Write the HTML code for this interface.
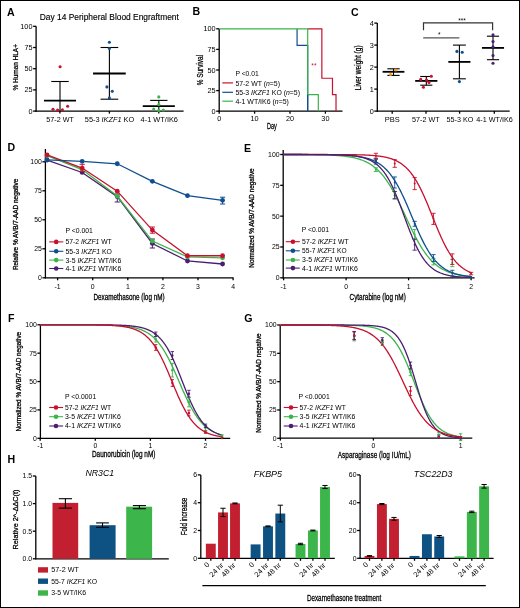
<!DOCTYPE html>
<html><head><meta charset="utf-8"><style>
html,body{margin:0;padding:0;background:#fff;}
body{width:520px;height:608px;overflow:hidden;}
svg{display:block;font-family:"Liberation Sans",sans-serif;}
svg{will-change:transform;}
text.c{stroke:#000;stroke-width:0.28px;}
text.t{stroke:#000;stroke-width:0.15px;}
</style></head><body>
<svg width="520" height="608" viewBox="0 0 520 608">
<rect x="0" y="0" width="520" height="608" fill="#fff"/>
<text x="7" y="15.8" font-size="10.6" font-weight="bold">A</text>
<text x="39.8" y="19.9" font-size="9.5" class="t" textLength="139" lengthAdjust="spacingAndGlyphs">Day 14 Peripheral Blood Engraftment</text>
<line x1="36.1" y1="26.3" x2="36.1" y2="111.65" stroke="#000" stroke-width="1.3" />
<line x1="33.1" y1="26.3" x2="36.1" y2="26.3" stroke="#000" stroke-width="1.3" />
<text x="32.5" y="28.85" font-size="7.3" text-anchor="end">100</text>
<line x1="33.1" y1="47.5" x2="36.1" y2="47.5" stroke="#000" stroke-width="1.3" />
<text x="32.5" y="50.05" font-size="7.3" text-anchor="end">75</text>
<line x1="33.1" y1="68.7" x2="36.1" y2="68.7" stroke="#000" stroke-width="1.3" />
<text x="32.5" y="71.25" font-size="7.3" text-anchor="end">50</text>
<line x1="33.1" y1="89.9" x2="36.1" y2="89.9" stroke="#000" stroke-width="1.3" />
<text x="32.5" y="92.45" font-size="7.3" text-anchor="end">25</text>
<line x1="33.1" y1="111.1" x2="36.1" y2="111.1" stroke="#000" stroke-width="1.3" />
<text x="32.5" y="113.66" font-size="7.3" text-anchor="end">0</text>
<line x1="35.45" y1="111.1" x2="183.6" y2="111.1" stroke="#000" stroke-width="1.3" />
<line x1="59.9" y1="111.1" x2="59.9" y2="113.6" stroke="#000" stroke-width="1.3" />
<line x1="109.4" y1="111.1" x2="109.4" y2="113.6" stroke="#000" stroke-width="1.3" />
<line x1="158.8" y1="111.1" x2="158.8" y2="113.6" stroke="#000" stroke-width="1.3" />
<text x="18.4" y="67.3" font-size="7.7" class="c" text-anchor="middle" textLength="46.5" lengthAdjust="spacingAndGlyphs" transform="rotate(-90 18.4 67.3)">% Human HLA+</text>
<text x="60.15" y="121.5" font-size="7.5" text-anchor="middle" textLength="27.7" lengthAdjust="spacingAndGlyphs">57-2 WT</text>
<text x="109.5" y="121.5" font-size="7.5" text-anchor="middle" textLength="49.4" lengthAdjust="spacingAndGlyphs">55-3 <tspan font-style="italic">IKZF1</tspan> KO</text>
<text x="159.3" y="121.5" font-size="7.5" text-anchor="middle" textLength="37.4" lengthAdjust="spacingAndGlyphs">4-1 WT/IK6</text>
<line x1="60" y1="81.5" x2="60" y2="111.1" stroke="#000" stroke-width="1.1" />
<line x1="51.25" y1="81.5" x2="68.75" y2="81.5" stroke="#000" stroke-width="1.1" />
<line x1="43.95" y1="100.7" x2="76.05" y2="100.7" stroke="#000" stroke-width="1.8" />
<circle cx="60.1" cy="66.8" r="1.55" fill="#c8102e"/>
<circle cx="53" cy="109.2" r="1.55" fill="#c8102e"/>
<circle cx="57.6" cy="110.1" r="1.55" fill="#c8102e"/>
<circle cx="62.4" cy="109.7" r="1.55" fill="#c8102e"/>
<circle cx="67.6" cy="106.3" r="1.55" fill="#c8102e"/>
<line x1="109.4" y1="47.5" x2="109.4" y2="99.2" stroke="#000" stroke-width="1.1" />
<line x1="100.55" y1="47.5" x2="118.25" y2="47.5" stroke="#000" stroke-width="1.1" />
<line x1="100.55" y1="99.2" x2="118.25" y2="99.2" stroke="#000" stroke-width="1.1" />
<line x1="93.05" y1="73.5" x2="125.75" y2="73.5" stroke="#000" stroke-width="1.8" />
<circle cx="109.4" cy="42.3" r="1.55" fill="#0f4f8f"/>
<circle cx="109.4" cy="48.5" r="1.55" fill="#0f4f8f"/>
<circle cx="106.9" cy="86.9" r="1.55" fill="#0f4f8f"/>
<circle cx="112.3" cy="91.2" r="1.55" fill="#0f4f8f"/>
<circle cx="109.4" cy="97.9" r="1.55" fill="#0f4f8f"/>
<line x1="158.8" y1="100.4" x2="158.8" y2="111.1" stroke="#000" stroke-width="1.1" />
<line x1="150.15" y1="100.4" x2="167.45" y2="100.4" stroke="#000" stroke-width="1.1" />
<line x1="142.75" y1="106.2" x2="174.85" y2="106.2" stroke="#000" stroke-width="1.8" />
<circle cx="158.8" cy="96.9" r="1.55" fill="#3cb44b"/>
<circle cx="158.8" cy="104.6" r="1.55" fill="#3cb44b"/>
<circle cx="153.7" cy="109" r="1.55" fill="#3cb44b"/>
<circle cx="158.8" cy="110.4" r="1.55" fill="#3cb44b"/>
<circle cx="163.3" cy="110" r="1.55" fill="#3cb44b"/>
<text x="192.6" y="15.4" font-size="10.6" font-weight="bold">B</text>
<line x1="219.2" y1="28.8" x2="219.2" y2="111.75" stroke="#000" stroke-width="1.3" />
<line x1="216.2" y1="28.8" x2="219.2" y2="28.8" stroke="#000" stroke-width="1.3" />
<text x="215.6" y="31.36" font-size="7.3" text-anchor="end">100</text>
<line x1="216.2" y1="49.4" x2="219.2" y2="49.4" stroke="#000" stroke-width="1.3" />
<text x="215.6" y="51.96" font-size="7.3" text-anchor="end">75</text>
<line x1="216.2" y1="70" x2="219.2" y2="70" stroke="#000" stroke-width="1.3" />
<text x="215.6" y="72.56" font-size="7.3" text-anchor="end">50</text>
<line x1="216.2" y1="90.6" x2="219.2" y2="90.6" stroke="#000" stroke-width="1.3" />
<text x="215.6" y="93.16" font-size="7.3" text-anchor="end">25</text>
<line x1="216.2" y1="111.2" x2="219.2" y2="111.2" stroke="#000" stroke-width="1.3" />
<text x="215.6" y="113.75" font-size="7.3" text-anchor="end">0</text>
<line x1="218.65" y1="111.2" x2="342.5" y2="111.2" stroke="#000" stroke-width="1.3" />
<line x1="219.2" y1="111.2" x2="219.2" y2="113.7" stroke="#000" stroke-width="1.3" />
<text x="219.2" y="121.2" font-size="7.3" text-anchor="middle">0</text>
<line x1="254.6" y1="111.2" x2="254.6" y2="113.7" stroke="#000" stroke-width="1.3" />
<text x="254.6" y="121.2" font-size="7.3" text-anchor="middle">10</text>
<line x1="290" y1="111.2" x2="290" y2="113.7" stroke="#000" stroke-width="1.3" />
<text x="290" y="121.2" font-size="7.3" text-anchor="middle">20</text>
<line x1="325.4" y1="111.2" x2="325.4" y2="113.7" stroke="#000" stroke-width="1.3" />
<text x="325.4" y="121.2" font-size="7.3" text-anchor="middle">30</text>
<text x="203.2" y="70.1" font-size="8.4" class="c" text-anchor="middle" textLength="30.4" lengthAdjust="spacingAndGlyphs" transform="rotate(-90 203.2 70.1)">% Survival</text>
<text x="271.95" y="128.5" font-size="9.2" class="c" text-anchor="middle" textLength="9.9" lengthAdjust="spacingAndGlyphs">Day</text>
<polyline points="307.7,28.8 321.86,28.8 321.86,78.24 332.48,78.24 332.48,94.72 336.02,94.72 336.02,111.2" fill="none" stroke="#c8102e" stroke-width="1.2" stroke-linejoin="miter" />
<polyline points="297.08,28.8 297.08,45.28 307.7,45.28 307.7,111.2" fill="none" stroke="#0f4f8f" stroke-width="1.2" stroke-linejoin="miter" />
<polyline points="219.2,28.8 307.7,28.8 307.7,94.72 318.32,94.72 318.32,111.2" fill="none" stroke="#3cb44b" stroke-width="1.2" stroke-linejoin="miter" />
<line x1="307.7" y1="94.72" x2="307.7" y2="111.2" stroke="#0f4f8f" stroke-width="1.2" />
<text x="313.9" y="68.1" font-size="6.5" text-anchor="middle" fill="#c8102e">**</text>
<text x="235.4" y="75.8" font-size="7.6" textLength="23.4" lengthAdjust="spacingAndGlyphs">P &lt;0.01</text>
<line x1="222.3" y1="82.9" x2="233" y2="82.9" stroke="#c8102e" stroke-width="1.2" />
<text x="235.4" y="85.7" font-size="7.6" textLength="44.6" lengthAdjust="spacingAndGlyphs">57-2 WT (<tspan font-style="italic">n</tspan>=5)</text>
<line x1="222.3" y1="92.3" x2="233" y2="92.3" stroke="#0f4f8f" stroke-width="1.2" />
<text x="235.4" y="95.1" font-size="7.6" textLength="64.6" lengthAdjust="spacingAndGlyphs">55-3 <tspan font-style="italic">IKZF1</tspan> KO (<tspan font-style="italic">n</tspan>=5)</text>
<line x1="222.3" y1="101.2" x2="233" y2="101.2" stroke="#3cb44b" stroke-width="1.2" />
<text x="235.4" y="104" font-size="7.6" textLength="53.5" lengthAdjust="spacingAndGlyphs">4-1 WT/IK6 (<tspan font-style="italic">n</tspan>=5)</text>
<text x="351" y="15.7" font-size="10.6" font-weight="bold">C</text>
<line x1="377.3" y1="23.1" x2="377.3" y2="111.65" stroke="#000" stroke-width="1.3" />
<line x1="374.3" y1="23.1" x2="377.3" y2="23.1" stroke="#000" stroke-width="1.3" />
<text x="373.7" y="25.65" font-size="7.3" text-anchor="end">4</text>
<line x1="374.3" y1="45.1" x2="377.3" y2="45.1" stroke="#000" stroke-width="1.3" />
<text x="373.7" y="47.65" font-size="7.3" text-anchor="end">3</text>
<line x1="374.3" y1="67.1" x2="377.3" y2="67.1" stroke="#000" stroke-width="1.3" />
<text x="373.7" y="69.66" font-size="7.3" text-anchor="end">2</text>
<line x1="374.3" y1="89.1" x2="377.3" y2="89.1" stroke="#000" stroke-width="1.3" />
<text x="373.7" y="91.66" font-size="7.3" text-anchor="end">1</text>
<line x1="374.3" y1="111.1" x2="377.3" y2="111.1" stroke="#000" stroke-width="1.3" />
<text x="373.7" y="113.66" font-size="7.3" text-anchor="end">0</text>
<line x1="376.75" y1="111.1" x2="509.7" y2="111.1" stroke="#000" stroke-width="1.3" />
<line x1="392.2" y1="111.1" x2="392.2" y2="113.7" stroke="#000" stroke-width="1.3" />
<line x1="426" y1="111.1" x2="426" y2="113.7" stroke="#000" stroke-width="1.3" />
<line x1="459.6" y1="111.1" x2="459.6" y2="113.7" stroke="#000" stroke-width="1.3" />
<line x1="494.3" y1="111.1" x2="494.3" y2="113.7" stroke="#000" stroke-width="1.3" />
<text x="361.3" y="67.8" font-size="8.2" class="c" text-anchor="middle" textLength="44.8" lengthAdjust="spacingAndGlyphs" transform="rotate(-90 361.3 67.8)">Liver weight (g)</text>
<text x="392.2" y="122.4" font-size="7.2" text-anchor="middle" textLength="15" lengthAdjust="spacingAndGlyphs">PBS</text>
<text x="425.9" y="122.4" font-size="7.2" text-anchor="middle" textLength="27.7" lengthAdjust="spacingAndGlyphs">57-2 WT</text>
<text x="459.9" y="122.4" font-size="7.2" text-anchor="middle" textLength="26.7" lengthAdjust="spacingAndGlyphs">55-3 KO</text>
<text x="494.5" y="122.4" font-size="7.2" text-anchor="middle" textLength="36.5" lengthAdjust="spacingAndGlyphs">4-1 WT/IK6</text>
<line x1="393.5" y1="68.8" x2="393.5" y2="75.4" stroke="#000" stroke-width="1.1" />
<line x1="387.35" y1="68.8" x2="399.65" y2="68.8" stroke="#000" stroke-width="1.1" />
<line x1="387.35" y1="75.4" x2="399.65" y2="75.4" stroke="#000" stroke-width="1.1" />
<line x1="382.6" y1="71.8" x2="404.4" y2="71.8" stroke="#000" stroke-width="1.8" />
<circle cx="395.8" cy="70" r="1.55" fill="#f39c12"/>
<circle cx="390.5" cy="74.5" r="1.55" fill="#f39c12"/>
<line x1="426.3" y1="76.5" x2="426.3" y2="85.2" stroke="#000" stroke-width="1.1" />
<line x1="420.25" y1="76.5" x2="432.35" y2="76.5" stroke="#000" stroke-width="1.1" />
<line x1="420.25" y1="85.2" x2="432.35" y2="85.2" stroke="#000" stroke-width="1.1" />
<line x1="415.2" y1="80.9" x2="437.4" y2="80.9" stroke="#000" stroke-width="1.8" />
<circle cx="431.3" cy="76.3" r="1.55" fill="#c8102e"/>
<circle cx="420.7" cy="79.4" r="1.55" fill="#c8102e"/>
<circle cx="426.5" cy="80.1" r="1.55" fill="#c8102e"/>
<circle cx="429" cy="82.4" r="1.55" fill="#c8102e"/>
<circle cx="423.4" cy="87.3" r="1.55" fill="#c8102e"/>
<line x1="459.4" y1="45.1" x2="459.4" y2="78.8" stroke="#000" stroke-width="1.1" />
<line x1="452.95" y1="45.1" x2="465.85" y2="45.1" stroke="#000" stroke-width="1.1" />
<line x1="452.95" y1="78.8" x2="465.85" y2="78.8" stroke="#000" stroke-width="1.1" />
<line x1="448.35" y1="61.9" x2="470.45" y2="61.9" stroke="#000" stroke-width="1.8" />
<circle cx="456.9" cy="51.4" r="1.55" fill="#0f4f8f"/>
<circle cx="462.2" cy="52.2" r="1.55" fill="#0f4f8f"/>
<circle cx="459.4" cy="81.6" r="1.55" fill="#0f4f8f"/>
<line x1="493" y1="36.2" x2="493" y2="59.7" stroke="#000" stroke-width="1.1" />
<line x1="486.9" y1="36.2" x2="499.1" y2="36.2" stroke="#000" stroke-width="1.1" />
<line x1="486.9" y1="59.7" x2="499.1" y2="59.7" stroke="#000" stroke-width="1.1" />
<line x1="481.95" y1="47.9" x2="504.05" y2="47.9" stroke="#000" stroke-width="1.8" />
<circle cx="493" cy="34.7" r="1.55" fill="#4b1f6f"/>
<circle cx="493" cy="41.6" r="1.55" fill="#4b1f6f"/>
<circle cx="493" cy="46.9" r="1.55" fill="#4b1f6f"/>
<circle cx="493" cy="55.6" r="1.55" fill="#4b1f6f"/>
<circle cx="493" cy="63.3" r="1.55" fill="#4b1f6f"/>
<polyline points="423.5,30.3 423.5,22.9 492.6,22.9 492.6,30.3" fill="none" stroke="#333" stroke-width="1.2" stroke-linejoin="miter" />
<text x="462" y="23" font-size="6.5" text-anchor="middle">***</text>
<line x1="423.2" y1="37.8" x2="459.4" y2="37.8" stroke="#555" stroke-width="1.2" />
<text x="439.2" y="37.3" font-size="6.5" text-anchor="middle">*</text>
<text x="7.5" y="151.2" font-size="10.6" font-weight="bold">D</text>
<line x1="45.4" y1="149" x2="45.4" y2="278.35" stroke="#000" stroke-width="1.3" />
<line x1="42.4" y1="161.8" x2="45.4" y2="161.8" stroke="#000" stroke-width="1.3" />
<text x="41.8" y="164.22" font-size="6.9" text-anchor="end">100</text>
<line x1="42.4" y1="190.8" x2="45.4" y2="190.8" stroke="#000" stroke-width="1.3" />
<text x="41.8" y="193.22" font-size="6.9" text-anchor="end">75</text>
<line x1="42.4" y1="219.8" x2="45.4" y2="219.8" stroke="#000" stroke-width="1.3" />
<text x="41.8" y="222.22" font-size="6.9" text-anchor="end">50</text>
<line x1="42.4" y1="248.8" x2="45.4" y2="248.8" stroke="#000" stroke-width="1.3" />
<text x="41.8" y="251.22" font-size="6.9" text-anchor="end">25</text>
<line x1="42.4" y1="277.8" x2="45.4" y2="277.8" stroke="#000" stroke-width="1.3" />
<text x="41.8" y="280.22" font-size="6.9" text-anchor="end">0</text>
<line x1="44.85" y1="277.8" x2="233.5" y2="277.8" stroke="#000" stroke-width="1.3" />
<line x1="57.6" y1="277.8" x2="57.6" y2="280.3" stroke="#000" stroke-width="1.3" />
<text x="57.6" y="289" font-size="6.9" text-anchor="middle">-1</text>
<line x1="92.7" y1="277.8" x2="92.7" y2="280.3" stroke="#000" stroke-width="1.3" />
<text x="92.7" y="289" font-size="6.9" text-anchor="middle">0</text>
<line x1="127.8" y1="277.8" x2="127.8" y2="280.3" stroke="#000" stroke-width="1.3" />
<text x="127.8" y="289" font-size="6.9" text-anchor="middle">1</text>
<line x1="162.9" y1="277.8" x2="162.9" y2="280.3" stroke="#000" stroke-width="1.3" />
<text x="162.9" y="289" font-size="6.9" text-anchor="middle">2</text>
<line x1="198" y1="277.8" x2="198" y2="280.3" stroke="#000" stroke-width="1.3" />
<text x="198" y="289" font-size="6.9" text-anchor="middle">3</text>
<line x1="233.1" y1="277.8" x2="233.1" y2="280.3" stroke="#000" stroke-width="1.3" />
<text x="233.1" y="289" font-size="6.9" text-anchor="middle">4</text>
<text x="18.4" y="224.4" font-size="6.5" class="c" text-anchor="middle" textLength="91.4" lengthAdjust="spacingAndGlyphs" transform="rotate(-90 18.4 224.4)">Relative % AVB/7-AAD negative</text>
<text x="129" y="300" font-size="8.4" class="c" text-anchor="middle" textLength="71.2" lengthAdjust="spacingAndGlyphs">Dexamethasone (log nM)</text>
<polyline points="47.07,160.06 82.17,172.47 117.27,196.6 152.37,243.46 187.47,260.98 222.57,264" fill="none" stroke="#4b1f6f" stroke-width="1.3" stroke-linejoin="miter" />
<line x1="152.37" y1="239" x2="152.37" y2="248" stroke="#4b1f6f" stroke-width="1.0" />
<line x1="149.77" y1="239" x2="154.97" y2="239" stroke="#4b1f6f" stroke-width="1.0" />
<line x1="149.77" y1="248" x2="154.97" y2="248" stroke="#4b1f6f" stroke-width="1.0" />
<line x1="117.27" y1="194" x2="117.27" y2="202" stroke="#4b1f6f" stroke-width="1.0" />
<line x1="114.67" y1="194" x2="119.87" y2="194" stroke="#4b1f6f" stroke-width="1.0" />
<line x1="114.67" y1="202" x2="119.87" y2="202" stroke="#4b1f6f" stroke-width="1.0" />
<circle cx="47.07" cy="160.06" r="2.4" fill="#4b1f6f"/>
<circle cx="82.17" cy="172.47" r="2.4" fill="#4b1f6f"/>
<circle cx="117.27" cy="196.6" r="2.4" fill="#4b1f6f"/>
<circle cx="152.37" cy="243.46" r="2.4" fill="#4b1f6f"/>
<circle cx="187.47" cy="260.98" r="2.4" fill="#4b1f6f"/>
<circle cx="222.57" cy="264" r="2.4" fill="#4b1f6f"/>
<polyline points="47.07,155.65 82.17,169.57 117.27,196.02 152.37,241.03 187.47,256.92 222.57,257.85" fill="none" stroke="#3cb44b" stroke-width="1.3" stroke-linejoin="miter" />
<circle cx="47.07" cy="155.65" r="2.4" fill="#3cb44b"/>
<circle cx="82.17" cy="169.57" r="2.4" fill="#3cb44b"/>
<circle cx="117.27" cy="196.02" r="2.4" fill="#3cb44b"/>
<circle cx="152.37" cy="241.03" r="2.4" fill="#3cb44b"/>
<circle cx="187.47" cy="256.92" r="2.4" fill="#3cb44b"/>
<circle cx="222.57" cy="257.85" r="2.4" fill="#3cb44b"/>
<polyline points="47.07,154.96 82.17,168.06 117.27,191.15 152.37,230.12 187.47,255.76 222.57,255.76" fill="none" stroke="#c8102e" stroke-width="1.3" stroke-linejoin="miter" />
<line x1="82.17" y1="164.3" x2="82.17" y2="171.5" stroke="#c8102e" stroke-width="1.0" />
<line x1="79.57" y1="164.3" x2="84.77" y2="164.3" stroke="#c8102e" stroke-width="1.0" />
<line x1="79.57" y1="171.5" x2="84.77" y2="171.5" stroke="#c8102e" stroke-width="1.0" />
<line x1="152.37" y1="227" x2="152.37" y2="233.2" stroke="#c8102e" stroke-width="1.0" />
<line x1="149.77" y1="227" x2="154.97" y2="227" stroke="#c8102e" stroke-width="1.0" />
<line x1="149.77" y1="233.2" x2="154.97" y2="233.2" stroke="#c8102e" stroke-width="1.0" />
<circle cx="47.07" cy="154.96" r="2.4" fill="#c8102e"/>
<circle cx="82.17" cy="168.06" r="2.4" fill="#c8102e"/>
<circle cx="117.27" cy="191.15" r="2.4" fill="#c8102e"/>
<circle cx="152.37" cy="230.12" r="2.4" fill="#c8102e"/>
<circle cx="187.47" cy="255.76" r="2.4" fill="#c8102e"/>
<circle cx="222.57" cy="255.76" r="2.4" fill="#c8102e"/>
<polyline points="47.07,159.94 82.17,161.34 117.27,163.77 152.37,181.29 187.47,195.67 222.57,200.31" fill="none" stroke="#0f4f8f" stroke-width="1.3" stroke-linejoin="miter" />
<line x1="222.57" y1="197.2" x2="222.57" y2="204" stroke="#0f4f8f" stroke-width="1.0" />
<line x1="219.97" y1="197.2" x2="225.17" y2="197.2" stroke="#0f4f8f" stroke-width="1.0" />
<line x1="219.97" y1="204" x2="225.17" y2="204" stroke="#0f4f8f" stroke-width="1.0" />
<circle cx="47.07" cy="159.94" r="2.4" fill="#0f4f8f"/>
<circle cx="82.17" cy="161.34" r="2.4" fill="#0f4f8f"/>
<circle cx="117.27" cy="163.77" r="2.4" fill="#0f4f8f"/>
<circle cx="152.37" cy="181.29" r="2.4" fill="#0f4f8f"/>
<circle cx="187.47" cy="195.67" r="2.4" fill="#0f4f8f"/>
<circle cx="222.57" cy="200.31" r="2.4" fill="#0f4f8f"/>
<text x="65.5" y="232.6" font-size="7.1" textLength="27.4" lengthAdjust="spacingAndGlyphs">P &lt;0.001</text>
<line x1="49.2" y1="241.9" x2="63.3" y2="241.9" stroke="#c8102e" stroke-width="1.1" />
<circle cx="56.2" cy="241.9" r="2.3" fill="#c8102e"/>
<text x="65.5" y="244.3" font-size="7.1" textLength="46.2" lengthAdjust="spacingAndGlyphs">57-2 <tspan font-style="italic">IKZF1</tspan> WT</text>
<line x1="49.2" y1="251.3" x2="63.3" y2="251.3" stroke="#0f4f8f" stroke-width="1.1" />
<circle cx="56.2" cy="251.3" r="2.3" fill="#0f4f8f"/>
<text x="65.5" y="253.7" font-size="7.1" textLength="46.4" lengthAdjust="spacingAndGlyphs">55-3 <tspan font-style="italic">IKZF1</tspan> KO</text>
<line x1="49.2" y1="260.1" x2="63.3" y2="260.1" stroke="#3cb44b" stroke-width="1.1" />
<circle cx="56.2" cy="260.1" r="2.3" fill="#3cb44b"/>
<text x="65.5" y="262.5" font-size="7.1" textLength="55.8" lengthAdjust="spacingAndGlyphs">3-5 <tspan font-style="italic">IKZF1</tspan> WT/IK6</text>
<line x1="49.2" y1="268.5" x2="63.3" y2="268.5" stroke="#4b1f6f" stroke-width="1.1" />
<circle cx="56.2" cy="268.5" r="2.3" fill="#4b1f6f"/>
<text x="65.5" y="270.9" font-size="7.1" textLength="55.8" lengthAdjust="spacingAndGlyphs">4-1 <tspan font-style="italic">IKZF1</tspan> WT/IK6</text>
<text x="244" y="151.9" font-size="10.6" font-weight="bold">E</text>
<line x1="283.2" y1="150.1" x2="283.2" y2="278.35" stroke="#000" stroke-width="1.3" />
<line x1="280.2" y1="154.5" x2="283.2" y2="154.5" stroke="#000" stroke-width="1.3" />
<text x="279.6" y="156.91" font-size="6.9" text-anchor="end">100</text>
<line x1="280.2" y1="185.32" x2="283.2" y2="185.32" stroke="#000" stroke-width="1.3" />
<text x="279.6" y="187.74" font-size="6.9" text-anchor="end">75</text>
<line x1="280.2" y1="216.15" x2="283.2" y2="216.15" stroke="#000" stroke-width="1.3" />
<text x="279.6" y="218.56" font-size="6.9" text-anchor="end">50</text>
<line x1="280.2" y1="246.98" x2="283.2" y2="246.98" stroke="#000" stroke-width="1.3" />
<text x="279.6" y="249.39" font-size="6.9" text-anchor="end">25</text>
<line x1="280.2" y1="277.8" x2="283.2" y2="277.8" stroke="#000" stroke-width="1.3" />
<text x="279.6" y="280.22" font-size="6.9" text-anchor="end">0</text>
<line x1="282.65" y1="277.8" x2="474.6" y2="277.8" stroke="#000" stroke-width="1.3" />
<line x1="283.6" y1="277.8" x2="283.6" y2="280.3" stroke="#000" stroke-width="1.3" />
<text x="283.6" y="288.6" font-size="6.9" text-anchor="middle">-1</text>
<line x1="346.1" y1="277.8" x2="346.1" y2="280.3" stroke="#000" stroke-width="1.3" />
<text x="346.1" y="288.6" font-size="6.9" text-anchor="middle">0</text>
<line x1="408.6" y1="277.8" x2="408.6" y2="280.3" stroke="#000" stroke-width="1.3" />
<text x="408.6" y="288.6" font-size="6.9" text-anchor="middle">1</text>
<line x1="471.1" y1="277.8" x2="471.1" y2="280.3" stroke="#000" stroke-width="1.3" />
<text x="471.1" y="288.6" font-size="6.9" text-anchor="middle">2</text>
<text x="253.8" y="218" font-size="6.5" class="c" text-anchor="middle" textLength="99.3" lengthAdjust="spacingAndGlyphs" transform="rotate(-90 253.8 218)">Normalized % AVB/7-AAD negative</text>
<text x="377.65" y="299.5" font-size="8.4" class="c" text-anchor="middle" textLength="56.3" lengthAdjust="spacingAndGlyphs">Cytarabine (log nM)</text>
<polyline points="283.6,154.52 284.23,154.53 284.85,154.53 285.48,154.53 286.1,154.53 286.73,154.53 287.35,154.53 287.98,154.53 288.6,154.53 289.23,154.54 289.85,154.54 290.48,154.54 291.1,154.54 291.73,154.54 292.35,154.54 292.98,154.55 293.6,154.55 294.23,154.55 294.85,154.55 295.48,154.56 296.1,154.56 296.73,154.56 297.35,154.56 297.98,154.57 298.6,154.57 299.23,154.57 299.85,154.58 300.48,154.58 301.1,154.58 301.73,154.59 302.35,154.59 302.98,154.59 303.6,154.6 304.23,154.6 304.85,154.61 305.48,154.61 306.1,154.62 306.73,154.62 307.35,154.63 307.98,154.63 308.6,154.64 309.23,154.65 309.85,154.65 310.48,154.66 311.1,154.67 311.73,154.67 312.35,154.68 312.98,154.69 313.6,154.7 314.23,154.71 314.85,154.72 315.48,154.73 316.1,154.74 316.73,154.75 317.35,154.76 317.98,154.77 318.6,154.78 319.23,154.79 319.85,154.81 320.48,154.82 321.1,154.83 321.73,154.85 322.35,154.87 322.98,154.88 323.6,154.9 324.23,154.92 324.85,154.93 325.48,154.95 326.1,154.97 326.73,155 327.35,155.02 327.98,155.04 328.6,155.06 329.23,155.09 329.85,155.12 330.48,155.14 331.1,155.17 331.73,155.2 332.35,155.23 332.98,155.27 333.6,155.3 334.23,155.34 334.85,155.37 335.48,155.41 336.1,155.45 336.73,155.49 337.35,155.54 337.98,155.58 338.6,155.63 339.23,155.68 339.85,155.73 340.48,155.79 341.1,155.85 341.73,155.91 342.35,155.97 342.98,156.03 343.6,156.1 344.23,156.17 344.85,156.24 345.48,156.32 346.1,156.4 346.73,156.49 347.35,156.57 347.98,156.66 348.6,156.76 349.23,156.86 349.85,156.96 350.48,157.07 351.1,157.18 351.73,157.3 352.35,157.42 352.98,157.55 353.6,157.68 354.23,157.82 354.85,157.96 355.48,158.11 356.1,158.27 356.73,158.43 357.35,158.6 357.98,158.78 358.6,158.97 359.23,159.16 359.85,159.36 360.48,159.57 361.1,159.78 361.73,160.01 362.35,160.24 362.98,160.49 363.6,160.74 364.23,161.01 364.85,161.28 365.48,161.57 366.1,161.87 366.73,162.17 367.35,162.5 367.98,162.83 368.6,163.18 369.23,163.53 369.85,163.91 370.48,164.3 371.1,164.7 371.73,165.11 372.35,165.55 372.98,165.99 373.6,166.46 374.23,166.94 374.85,167.44 375.48,167.95 376.1,168.49 376.73,169.04 377.35,169.61 377.98,170.2 378.6,170.81 379.23,171.44 379.85,172.08 380.48,172.75 381.1,173.45 381.73,174.16 382.35,174.89 382.98,175.65 383.6,176.42 384.23,177.22 384.85,178.05 385.48,178.89 386.1,179.76 386.73,180.65 387.35,181.56 387.98,182.5 388.6,183.45 389.23,184.44 389.85,185.44 390.48,186.46 391.1,187.51 391.73,188.58 392.35,189.67 392.98,190.78 393.6,191.91 394.23,193.06 394.85,194.23 395.48,195.41 396.1,196.62 396.73,197.84 397.35,199.08 397.98,200.33 398.6,201.6 399.23,202.88 399.85,204.17 400.48,205.47 401.1,206.78 401.73,208.1 402.35,209.43 402.98,210.77 403.6,212.11 404.23,213.45 404.85,214.8 405.48,216.15 406.1,217.5 406.73,218.85 407.35,220.19 407.98,221.53 408.6,222.87 409.23,224.2 409.85,225.52 410.48,226.83 411.1,228.13 411.73,229.42 412.35,230.7 412.98,231.97 413.6,233.22 414.23,234.46 414.85,235.68 415.48,236.89 416.1,238.07 416.73,239.24 417.35,240.39 417.98,241.52 418.6,242.63 419.23,243.72 419.85,244.79 420.48,245.84 421.1,246.86 421.73,247.86 422.35,248.85 422.98,249.8 423.6,250.74 424.23,251.65 424.85,252.54 425.48,253.41 426.1,254.25 426.73,255.08 427.35,255.88 427.98,256.65 428.6,257.41 429.23,258.14 429.85,258.85 430.48,259.55 431.1,260.22 431.73,260.86 432.35,261.49 432.98,262.1 433.6,262.69 434.23,263.26 434.85,263.81 435.48,264.35 436.1,264.86 436.73,265.36 437.35,265.84 437.98,266.31 438.6,266.75 439.23,267.19 439.85,267.6 440.48,268 441.1,268.39 441.73,268.77 442.35,269.12 442.98,269.47 443.6,269.8 444.23,270.13 444.85,270.43 445.48,270.73 446.1,271.02 446.73,271.29 447.35,271.56 447.98,271.81 448.6,272.06 449.23,272.29 449.85,272.52 450.48,272.73 451.1,272.94 451.73,273.14 452.35,273.33 452.98,273.52 453.6,273.7 454.23,273.87 454.85,274.03 455.48,274.19 456.1,274.34 456.73,274.48 457.35,274.62 457.98,274.75 458.6,274.88 459.23,275 459.85,275.12 460.48,275.23 461.1,275.34 461.73,275.44 462.35,275.54 462.98,275.64 463.6,275.73 464.23,275.81 464.85,275.9 465.48,275.98 466.1,276.06 466.73,276.13 467.35,276.2 467.98,276.27 468.6,276.33 469.23,276.39 469.85,276.45 470.48,276.51 471.1,276.57" fill="none" stroke="#3cb44b" stroke-width="1.3" stroke-linejoin="miter" />
<polyline points="283.6,154.51 284.23,154.51 284.85,154.51 285.48,154.51 286.1,154.51 286.73,154.51 287.35,154.51 287.98,154.51 288.6,154.51 289.23,154.51 289.85,154.51 290.48,154.51 291.1,154.51 291.73,154.51 292.35,154.51 292.98,154.51 293.6,154.51 294.23,154.51 294.85,154.51 295.48,154.52 296.1,154.52 296.73,154.52 297.35,154.52 297.98,154.52 298.6,154.52 299.23,154.52 299.85,154.52 300.48,154.52 301.1,154.52 301.73,154.52 302.35,154.53 302.98,154.53 303.6,154.53 304.23,154.53 304.85,154.53 305.48,154.53 306.1,154.53 306.73,154.54 307.35,154.54 307.98,154.54 308.6,154.54 309.23,154.54 309.85,154.55 310.48,154.55 311.1,154.55 311.73,154.55 312.35,154.56 312.98,154.56 313.6,154.56 314.23,154.57 314.85,154.57 315.48,154.57 316.1,154.58 316.73,154.58 317.35,154.58 317.98,154.59 318.6,154.59 319.23,154.6 319.85,154.6 320.48,154.61 321.1,154.61 321.73,154.62 322.35,154.62 322.98,154.63 323.6,154.63 324.23,154.64 324.85,154.65 325.48,154.66 326.1,154.66 326.73,154.67 327.35,154.68 327.98,154.69 328.6,154.7 329.23,154.71 329.85,154.72 330.48,154.73 331.1,154.74 331.73,154.75 332.35,154.76 332.98,154.78 333.6,154.79 334.23,154.81 334.85,154.82 335.48,154.84 336.1,154.85 336.73,154.87 337.35,154.89 337.98,154.91 338.6,154.93 339.23,154.95 339.85,154.97 340.48,155 341.1,155.02 341.73,155.05 342.35,155.07 342.98,155.1 343.6,155.13 344.23,155.16 344.85,155.19 345.48,155.23 346.1,155.26 346.73,155.3 347.35,155.34 347.98,155.38 348.6,155.43 349.23,155.47 349.85,155.52 350.48,155.57 351.1,155.62 351.73,155.68 352.35,155.73 352.98,155.8 353.6,155.86 354.23,155.93 354.85,156 355.48,156.07 356.1,156.14 356.73,156.23 357.35,156.31 357.98,156.4 358.6,156.49 359.23,156.59 359.85,156.69 360.48,156.8 361.1,156.91 361.73,157.02 362.35,157.15 362.98,157.27 363.6,157.41 364.23,157.55 364.85,157.7 365.48,157.85 366.1,158.01 366.73,158.18 367.35,158.36 367.98,158.54 368.6,158.73 369.23,158.94 369.85,159.15 370.48,159.37 371.1,159.6 371.73,159.84 372.35,160.09 372.98,160.36 373.6,160.63 374.23,160.92 374.85,161.22 375.48,161.54 376.1,161.87 376.73,162.21 377.35,162.56 377.98,162.94 378.6,163.32 379.23,163.73 379.85,164.15 380.48,164.59 381.1,165.05 381.73,165.52 382.35,166.02 382.98,166.53 383.6,167.07 384.23,167.62 384.85,168.2 385.48,168.8 386.1,169.43 386.73,170.07 387.35,170.74 387.98,171.44 388.6,172.15 389.23,172.9 389.85,173.67 390.48,174.46 391.1,175.29 391.73,176.14 392.35,177.01 392.98,177.92 393.6,178.85 394.23,179.8 394.85,180.79 395.48,181.81 396.1,182.85 396.73,183.92 397.35,185.01 397.98,186.14 398.6,187.29 399.23,188.46 399.85,189.67 400.48,190.9 401.1,192.15 401.73,193.42 402.35,194.72 402.98,196.04 403.6,197.39 404.23,198.75 404.85,200.13 405.48,201.53 406.1,202.94 406.73,204.37 407.35,205.81 407.98,207.27 408.6,208.73 409.23,210.21 409.85,211.69 410.48,213.17 411.1,214.66 411.73,216.15 412.35,217.64 412.98,219.13 413.6,220.61 414.23,222.09 414.85,223.57 415.48,225.03 416.1,226.49 416.73,227.93 417.35,229.36 417.98,230.77 418.6,232.17 419.23,233.55 419.85,234.91 420.48,236.26 421.1,237.58 421.73,238.88 422.35,240.15 422.98,241.4 423.6,242.63 424.23,243.84 424.85,245.01 425.48,246.16 426.1,247.29 426.73,248.38 427.35,249.45 427.98,250.49 428.6,251.51 429.23,252.5 429.85,253.45 430.48,254.38 431.1,255.29 431.73,256.16 432.35,257.01 432.98,257.84 433.6,258.63 434.23,259.4 434.85,260.15 435.48,260.86 436.1,261.56 436.73,262.23 437.35,262.87 437.98,263.5 438.6,264.1 439.23,264.68 439.85,265.23 440.48,265.77 441.1,266.28 441.73,266.78 442.35,267.25 442.98,267.71 443.6,268.15 444.23,268.57 444.85,268.98 445.48,269.36 446.1,269.74 446.73,270.09 447.35,270.43 447.98,270.76 448.6,271.08 449.23,271.38 449.85,271.67 450.48,271.94 451.1,272.21 451.73,272.46 452.35,272.7 452.98,272.93 453.6,273.15 454.23,273.36 454.85,273.57 455.48,273.76 456.1,273.94 456.73,274.12 457.35,274.29 457.98,274.45 458.6,274.6 459.23,274.75 459.85,274.89 460.48,275.03 461.1,275.15 461.73,275.28 462.35,275.39 462.98,275.5 463.6,275.61 464.23,275.71 464.85,275.81 465.48,275.9 466.1,275.99 466.73,276.07 467.35,276.16 467.98,276.23 468.6,276.3 469.23,276.37 469.85,276.44 470.48,276.5 471.1,276.57" fill="none" stroke="#0f4f8f" stroke-width="1.3" stroke-linejoin="miter" />
<polyline points="283.6,154.5 284.23,154.5 284.85,154.5 285.48,154.5 286.1,154.5 286.73,154.5 287.35,154.5 287.98,154.5 288.6,154.5 289.23,154.5 289.85,154.5 290.48,154.5 291.1,154.5 291.73,154.5 292.35,154.5 292.98,154.5 293.6,154.5 294.23,154.5 294.85,154.5 295.48,154.5 296.1,154.5 296.73,154.5 297.35,154.5 297.98,154.5 298.6,154.5 299.23,154.5 299.85,154.5 300.48,154.5 301.1,154.5 301.73,154.5 302.35,154.5 302.98,154.5 303.6,154.5 304.23,154.5 304.85,154.5 305.48,154.5 306.1,154.5 306.73,154.5 307.35,154.5 307.98,154.51 308.6,154.51 309.23,154.51 309.85,154.51 310.48,154.51 311.1,154.51 311.73,154.51 312.35,154.51 312.98,154.51 313.6,154.51 314.23,154.51 314.85,154.51 315.48,154.51 316.1,154.51 316.73,154.51 317.35,154.51 317.98,154.51 318.6,154.51 319.23,154.51 319.85,154.51 320.48,154.51 321.1,154.51 321.73,154.52 322.35,154.52 322.98,154.52 323.6,154.52 324.23,154.52 324.85,154.52 325.48,154.52 326.1,154.52 326.73,154.52 327.35,154.52 327.98,154.53 328.6,154.53 329.23,154.53 329.85,154.53 330.48,154.53 331.1,154.53 331.73,154.54 332.35,154.54 332.98,154.54 333.6,154.54 334.23,154.54 334.85,154.55 335.48,154.55 336.1,154.55 336.73,154.55 337.35,154.56 337.98,154.56 338.6,154.56 339.23,154.56 339.85,154.57 340.48,154.57 341.1,154.58 341.73,154.58 342.35,154.58 342.98,154.59 343.6,154.59 344.23,154.6 344.85,154.6 345.48,154.61 346.1,154.61 346.73,154.62 347.35,154.63 347.98,154.63 348.6,154.64 349.23,154.65 349.85,154.65 350.48,154.66 351.1,154.67 351.73,154.68 352.35,154.69 352.98,154.7 353.6,154.71 354.23,154.72 354.85,154.73 355.48,154.74 356.1,154.75 356.73,154.77 357.35,154.78 357.98,154.8 358.6,154.81 359.23,154.83 359.85,154.84 360.48,154.86 361.1,154.88 361.73,154.9 362.35,154.92 362.98,154.94 363.6,154.97 364.23,154.99 364.85,155.02 365.48,155.04 366.1,155.07 366.73,155.1 367.35,155.13 367.98,155.16 368.6,155.2 369.23,155.24 369.85,155.27 370.48,155.31 371.1,155.35 371.73,155.4 372.35,155.45 372.98,155.49 373.6,155.55 374.23,155.6 374.85,155.66 375.48,155.72 376.1,155.78 376.73,155.84 377.35,155.91 377.98,155.98 378.6,156.06 379.23,156.14 379.85,156.23 380.48,156.31 381.1,156.41 381.73,156.5 382.35,156.61 382.98,156.71 383.6,156.83 384.23,156.94 384.85,157.07 385.48,157.2 386.1,157.34 386.73,157.48 387.35,157.63 387.98,157.79 388.6,157.96 389.23,158.13 389.85,158.31 390.48,158.51 391.1,158.71 391.73,158.92 392.35,159.14 392.98,159.37 393.6,159.61 394.23,159.87 394.85,160.13 395.48,160.41 396.1,160.7 396.73,161.01 397.35,161.33 397.98,161.66 398.6,162.01 399.23,162.38 399.85,162.76 400.48,163.16 401.1,163.57 401.73,164.01 402.35,164.46 402.98,164.94 403.6,165.43 404.23,165.95 404.85,166.48 405.48,167.04 406.1,167.62 406.73,168.23 407.35,168.86 407.98,169.52 408.6,170.2 409.23,170.9 409.85,171.64 410.48,172.4 411.1,173.19 411.73,174.01 412.35,174.85 412.98,175.73 413.6,176.63 414.23,177.57 414.85,178.53 415.48,179.53 416.1,180.55 416.73,181.61 417.35,182.7 417.98,183.81 418.6,184.96 419.23,186.14 419.85,187.34 420.48,188.58 421.1,189.84 421.73,191.13 422.35,192.45 422.98,193.79 423.6,195.16 424.23,196.55 424.85,197.97 425.48,199.4 426.1,200.86 426.73,202.33 427.35,203.83 427.98,205.33 428.6,206.85 429.23,208.38 429.85,209.93 430.48,211.47 431.1,213.03 431.73,214.59 432.35,216.15 432.98,217.71 433.6,219.27 434.23,220.83 434.85,222.37 435.48,223.92 436.1,225.45 436.73,226.97 437.35,228.47 437.98,229.97 438.6,231.44 439.23,232.9 439.85,234.33 440.48,235.75 441.1,237.14 441.73,238.51 442.35,239.85 442.98,241.17 443.6,242.46 444.23,243.72 444.85,244.96 445.48,246.16 446.1,247.34 446.73,248.49 447.35,249.6 447.98,250.69 448.6,251.75 449.23,252.77 449.85,253.77 450.48,254.73 451.1,255.67 451.73,256.57 452.35,257.45 452.98,258.29 453.6,259.11 454.23,259.9 454.85,260.66 455.48,261.4 456.1,262.1 456.73,262.78 457.35,263.44 457.98,264.07 458.6,264.68 459.23,265.26 459.85,265.82 460.48,266.35 461.1,266.87 461.73,267.36 462.35,267.84 462.98,268.29 463.6,268.73 464.23,269.14 464.85,269.54 465.48,269.92 466.1,270.29 466.73,270.64 467.35,270.97 467.98,271.29 468.6,271.6 469.23,271.89 469.85,272.17 470.48,272.43 471.1,272.69" fill="none" stroke="#c8102e" stroke-width="1.3" stroke-linejoin="miter" />
<polyline points="283.6,154.5 284.23,154.5 284.85,154.5 285.48,154.5 286.1,154.5 286.73,154.5 287.35,154.5 287.98,154.5 288.6,154.5 289.23,154.5 289.85,154.5 290.48,154.51 291.1,154.51 291.73,154.51 292.35,154.51 292.98,154.51 293.6,154.51 294.23,154.51 294.85,154.51 295.48,154.51 296.1,154.51 296.73,154.51 297.35,154.51 297.98,154.51 298.6,154.51 299.23,154.51 299.85,154.51 300.48,154.51 301.1,154.51 301.73,154.51 302.35,154.52 302.98,154.52 303.6,154.52 304.23,154.52 304.85,154.52 305.48,154.52 306.1,154.52 306.73,154.52 307.35,154.52 307.98,154.52 308.6,154.53 309.23,154.53 309.85,154.53 310.48,154.53 311.1,154.53 311.73,154.53 312.35,154.54 312.98,154.54 313.6,154.54 314.23,154.54 314.85,154.55 315.48,154.55 316.1,154.55 316.73,154.55 317.35,154.56 317.98,154.56 318.6,154.56 319.23,154.57 319.85,154.57 320.48,154.57 321.1,154.58 321.73,154.58 322.35,154.59 322.98,154.59 323.6,154.6 324.23,154.6 324.85,154.61 325.48,154.62 326.1,154.62 326.73,154.63 327.35,154.64 327.98,154.65 328.6,154.65 329.23,154.66 329.85,154.67 330.48,154.68 331.1,154.69 331.73,154.7 332.35,154.71 332.98,154.73 333.6,154.74 334.23,154.75 334.85,154.77 335.48,154.78 336.1,154.8 336.73,154.81 337.35,154.83 337.98,154.85 338.6,154.87 339.23,154.89 339.85,154.91 340.48,154.94 341.1,154.96 341.73,154.99 342.35,155.02 342.98,155.05 343.6,155.08 344.23,155.11 344.85,155.14 345.48,155.18 346.1,155.22 346.73,155.26 347.35,155.3 347.98,155.35 348.6,155.39 349.23,155.45 349.85,155.5 350.48,155.55 351.1,155.61 351.73,155.68 352.35,155.74 352.98,155.81 353.6,155.89 354.23,155.96 354.85,156.05 355.48,156.13 356.1,156.23 356.73,156.32 357.35,156.42 357.98,156.53 358.6,156.64 359.23,156.76 359.85,156.89 360.48,157.02 361.1,157.16 361.73,157.31 362.35,157.47 362.98,157.63 363.6,157.8 364.23,157.99 364.85,158.18 365.48,158.38 366.1,158.6 366.73,158.82 367.35,159.06 367.98,159.31 368.6,159.57 369.23,159.84 369.85,160.13 370.48,160.44 371.1,160.76 371.73,161.09 372.35,161.45 372.98,161.82 373.6,162.21 374.23,162.62 374.85,163.05 375.48,163.5 376.1,163.97 376.73,164.46 377.35,164.98 377.98,165.52 378.6,166.09 379.23,166.68 379.85,167.3 380.48,167.95 381.1,168.63 381.73,169.34 382.35,170.07 382.98,170.84 383.6,171.64 384.23,172.47 384.85,173.34 385.48,174.23 386.1,175.17 386.73,176.14 387.35,177.14 387.98,178.18 388.6,179.25 389.23,180.37 389.85,181.51 390.48,182.7 391.1,183.92 391.73,185.17 392.35,186.46 392.98,187.79 393.6,189.15 394.23,190.54 394.85,191.97 395.48,193.42 396.1,194.91 396.73,196.43 397.35,197.97 397.98,199.54 398.6,201.13 399.23,202.74 399.85,204.37 400.48,206.02 401.1,207.69 401.73,209.36 402.35,211.05 402.98,212.75 403.6,214.45 404.23,216.15 404.85,217.85 405.48,219.55 406.1,221.25 406.73,222.94 407.35,224.61 407.98,226.28 408.6,227.93 409.23,229.56 409.85,231.17 410.48,232.76 411.1,234.33 411.73,235.87 412.35,237.39 412.98,238.88 413.6,240.33 414.23,241.76 414.85,243.15 415.48,244.51 416.1,245.84 416.73,247.13 417.35,248.38 417.98,249.6 418.6,250.79 419.23,251.93 419.85,253.05 420.48,254.12 421.1,255.16 421.73,256.16 422.35,257.13 422.98,258.07 423.6,258.96 424.23,259.83 424.85,260.66 425.48,261.46 426.1,262.23 426.73,262.96 427.35,263.67 427.98,264.35 428.6,265 429.23,265.62 429.85,266.21 430.48,266.78 431.1,267.32 431.73,267.84 432.35,268.33 432.98,268.8 433.6,269.25 434.23,269.68 434.85,270.09 435.48,270.48 436.1,270.85 436.73,271.21 437.35,271.54 437.98,271.86 438.6,272.17 439.23,272.46 439.85,272.73 440.48,272.99 441.1,273.24 441.73,273.48 442.35,273.7 442.98,273.92 443.6,274.12 444.23,274.31 444.85,274.5 445.48,274.67 446.1,274.83 446.73,274.99 447.35,275.14 447.98,275.28 448.6,275.41 449.23,275.54 449.85,275.66 450.48,275.77 451.1,275.88 451.73,275.98 452.35,276.07 452.98,276.17 453.6,276.25 454.23,276.34 454.85,276.41 455.48,276.49 456.1,276.56 456.73,276.62 457.35,276.69 457.98,276.75 458.6,276.8 459.23,276.85 459.85,276.91 460.48,276.95 461.1,277 461.73,277.04 462.35,277.08 462.98,277.12 463.6,277.16 464.23,277.19 464.85,277.22 465.48,277.25 466.1,277.28 466.73,277.31 467.35,277.34 467.98,277.36 468.6,277.39 469.23,277.41 469.85,277.43 470.48,277.45 471.1,277.47" fill="none" stroke="#4b1f6f" stroke-width="1.3" stroke-linejoin="miter" />
<line x1="375.91" y1="167.82" x2="375.91" y2="171.52" stroke="#3cb44b" stroke-width="0.9" />
<line x1="373.81" y1="167.82" x2="378.01" y2="167.82" stroke="#3cb44b" stroke-width="0.9" />
<line x1="373.81" y1="171.52" x2="378.01" y2="171.52" stroke="#3cb44b" stroke-width="0.9" />
<circle cx="375.91" cy="169.67" r="1.0" fill="#3cb44b"/>
<line x1="394.73" y1="191.37" x2="394.73" y2="198.76" stroke="#3cb44b" stroke-width="0.9" />
<line x1="392.62" y1="191.37" x2="396.83" y2="191.37" stroke="#3cb44b" stroke-width="0.9" />
<line x1="392.62" y1="198.76" x2="396.83" y2="198.76" stroke="#3cb44b" stroke-width="0.9" />
<circle cx="394.73" cy="195.07" r="1.0" fill="#3cb44b"/>
<line x1="414.66" y1="229.47" x2="414.66" y2="239.33" stroke="#3cb44b" stroke-width="0.9" />
<line x1="412.56" y1="229.47" x2="416.76" y2="229.47" stroke="#3cb44b" stroke-width="0.9" />
<line x1="412.56" y1="239.33" x2="416.76" y2="239.33" stroke="#3cb44b" stroke-width="0.9" />
<circle cx="414.66" cy="234.4" r="1.0" fill="#3cb44b"/>
<line x1="433.48" y1="258.69" x2="433.48" y2="264.85" stroke="#3cb44b" stroke-width="0.9" />
<line x1="431.38" y1="258.69" x2="435.58" y2="258.69" stroke="#3cb44b" stroke-width="0.9" />
<line x1="431.38" y1="264.85" x2="435.58" y2="264.85" stroke="#3cb44b" stroke-width="0.9" />
<circle cx="433.48" cy="261.77" r="1.0" fill="#3cb44b"/>
<line x1="452.29" y1="259.31" x2="452.29" y2="266.7" stroke="#3cb44b" stroke-width="0.9" />
<line x1="450.19" y1="259.31" x2="454.39" y2="259.31" stroke="#3cb44b" stroke-width="0.9" />
<line x1="450.19" y1="266.7" x2="454.39" y2="266.7" stroke="#3cb44b" stroke-width="0.9" />
<circle cx="452.29" cy="263" r="1.0" fill="#3cb44b"/>
<circle cx="471.1" cy="277.18" r="1.0" fill="#3cb44b"/>
<line x1="375.91" y1="158.82" x2="375.91" y2="162.51" stroke="#4b1f6f" stroke-width="0.9" />
<line x1="373.81" y1="158.82" x2="378.01" y2="158.82" stroke="#4b1f6f" stroke-width="0.9" />
<line x1="373.81" y1="162.51" x2="378.01" y2="162.51" stroke="#4b1f6f" stroke-width="0.9" />
<circle cx="375.91" cy="160.67" r="1.0" fill="#4b1f6f"/>
<line x1="394.73" y1="191.49" x2="394.73" y2="198.89" stroke="#4b1f6f" stroke-width="0.9" />
<line x1="392.62" y1="191.49" x2="396.83" y2="191.49" stroke="#4b1f6f" stroke-width="0.9" />
<line x1="392.62" y1="198.89" x2="396.83" y2="198.89" stroke="#4b1f6f" stroke-width="0.9" />
<circle cx="394.73" cy="195.19" r="1.0" fill="#4b1f6f"/>
<line x1="414.66" y1="239.08" x2="414.66" y2="250.18" stroke="#4b1f6f" stroke-width="0.9" />
<line x1="412.56" y1="239.08" x2="416.76" y2="239.08" stroke="#4b1f6f" stroke-width="0.9" />
<line x1="412.56" y1="250.18" x2="416.76" y2="250.18" stroke="#4b1f6f" stroke-width="0.9" />
<circle cx="414.66" cy="244.63" r="1.0" fill="#4b1f6f"/>
<circle cx="452.29" cy="277.18" r="1.0" fill="#4b1f6f"/>
<circle cx="471.1" cy="277.18" r="1.0" fill="#4b1f6f"/>
<line x1="375.91" y1="159.19" x2="375.91" y2="164.12" stroke="#0f4f8f" stroke-width="0.9" />
<line x1="373.81" y1="159.19" x2="378.01" y2="159.19" stroke="#0f4f8f" stroke-width="0.9" />
<line x1="373.81" y1="164.12" x2="378.01" y2="164.12" stroke="#0f4f8f" stroke-width="0.9" />
<circle cx="375.91" cy="161.65" r="1.0" fill="#0f4f8f"/>
<line x1="394.73" y1="176.94" x2="394.73" y2="188.04" stroke="#0f4f8f" stroke-width="0.9" />
<line x1="392.62" y1="176.94" x2="396.83" y2="176.94" stroke="#0f4f8f" stroke-width="0.9" />
<line x1="392.62" y1="188.04" x2="396.83" y2="188.04" stroke="#0f4f8f" stroke-width="0.9" />
<circle cx="394.73" cy="182.49" r="1.0" fill="#0f4f8f"/>
<line x1="414.66" y1="221.33" x2="414.66" y2="226.26" stroke="#0f4f8f" stroke-width="0.9" />
<line x1="412.56" y1="221.33" x2="416.76" y2="221.33" stroke="#0f4f8f" stroke-width="0.9" />
<line x1="412.56" y1="226.26" x2="416.76" y2="226.26" stroke="#0f4f8f" stroke-width="0.9" />
<circle cx="414.66" cy="223.79" r="1.0" fill="#0f4f8f"/>
<line x1="433.48" y1="254.62" x2="433.48" y2="261.52" stroke="#0f4f8f" stroke-width="0.9" />
<line x1="431.38" y1="254.62" x2="435.58" y2="254.62" stroke="#0f4f8f" stroke-width="0.9" />
<line x1="431.38" y1="261.52" x2="435.58" y2="261.52" stroke="#0f4f8f" stroke-width="0.9" />
<circle cx="433.48" cy="258.07" r="1.0" fill="#0f4f8f"/>
<line x1="452.29" y1="270.28" x2="452.29" y2="275.95" stroke="#0f4f8f" stroke-width="0.9" />
<line x1="450.19" y1="270.28" x2="454.39" y2="270.28" stroke="#0f4f8f" stroke-width="0.9" />
<line x1="450.19" y1="275.95" x2="454.39" y2="275.95" stroke="#0f4f8f" stroke-width="0.9" />
<circle cx="452.29" cy="273.11" r="1.0" fill="#0f4f8f"/>
<circle cx="471.1" cy="277.18" r="1.0" fill="#0f4f8f"/>
<line x1="375.91" y1="153.27" x2="375.91" y2="158.2" stroke="#c8102e" stroke-width="0.9" />
<line x1="373.81" y1="153.27" x2="378.01" y2="153.27" stroke="#c8102e" stroke-width="0.9" />
<line x1="373.81" y1="158.2" x2="378.01" y2="158.2" stroke="#c8102e" stroke-width="0.9" />
<circle cx="375.91" cy="155.73" r="1.0" fill="#c8102e"/>
<line x1="394.73" y1="159.68" x2="394.73" y2="167.32" stroke="#c8102e" stroke-width="0.9" />
<line x1="392.62" y1="159.68" x2="396.83" y2="159.68" stroke="#c8102e" stroke-width="0.9" />
<line x1="392.62" y1="167.32" x2="396.83" y2="167.32" stroke="#c8102e" stroke-width="0.9" />
<circle cx="394.73" cy="163.5" r="1.0" fill="#c8102e"/>
<line x1="414.66" y1="177.56" x2="414.66" y2="189.64" stroke="#c8102e" stroke-width="0.9" />
<line x1="412.56" y1="177.56" x2="416.76" y2="177.56" stroke="#c8102e" stroke-width="0.9" />
<line x1="412.56" y1="189.64" x2="416.76" y2="189.64" stroke="#c8102e" stroke-width="0.9" />
<circle cx="414.66" cy="183.6" r="1.0" fill="#c8102e"/>
<line x1="433.48" y1="213.31" x2="433.48" y2="224.41" stroke="#c8102e" stroke-width="0.9" />
<line x1="431.38" y1="213.31" x2="435.58" y2="213.31" stroke="#c8102e" stroke-width="0.9" />
<line x1="431.38" y1="224.41" x2="435.58" y2="224.41" stroke="#c8102e" stroke-width="0.9" />
<circle cx="433.48" cy="218.86" r="1.0" fill="#c8102e"/>
<line x1="452.29" y1="253.88" x2="452.29" y2="264.48" stroke="#c8102e" stroke-width="0.9" />
<line x1="450.19" y1="253.88" x2="454.39" y2="253.88" stroke="#c8102e" stroke-width="0.9" />
<line x1="450.19" y1="264.48" x2="454.39" y2="264.48" stroke="#c8102e" stroke-width="0.9" />
<circle cx="452.29" cy="259.18" r="1.0" fill="#c8102e"/>
<line x1="471.1" y1="272.37" x2="471.1" y2="274.84" stroke="#c8102e" stroke-width="0.9" />
<line x1="469" y1="272.37" x2="473.2" y2="272.37" stroke="#c8102e" stroke-width="0.9" />
<line x1="469" y1="274.84" x2="473.2" y2="274.84" stroke="#c8102e" stroke-width="0.9" />
<circle cx="471.1" cy="273.61" r="1.0" fill="#c8102e"/>
<text x="301.7" y="232.1" font-size="7.1" textLength="27.3" lengthAdjust="spacingAndGlyphs">P &lt;0.001</text>
<line x1="285.8" y1="241.7" x2="299.8" y2="241.7" stroke="#c8102e" stroke-width="1.1" />
<circle cx="292.9" cy="241.7" r="2.3" fill="#c8102e"/>
<text x="302.1" y="244.1" font-size="7.1" textLength="46.6" lengthAdjust="spacingAndGlyphs">57-2 <tspan font-style="italic">IKZF1</tspan> WT</text>
<line x1="285.8" y1="250.8" x2="299.8" y2="250.8" stroke="#0f4f8f" stroke-width="1.1" />
<circle cx="292.9" cy="250.8" r="2.3" fill="#0f4f8f"/>
<text x="302.1" y="253.2" font-size="7.1" textLength="44.5" lengthAdjust="spacingAndGlyphs">55-7 <tspan font-style="italic">IKZF1</tspan> KO</text>
<line x1="285.8" y1="260" x2="299.8" y2="260" stroke="#3cb44b" stroke-width="1.1" />
<circle cx="292.9" cy="260" r="2.3" fill="#3cb44b"/>
<text x="302.1" y="262.4" font-size="7.1" textLength="55.8" lengthAdjust="spacingAndGlyphs">3-5 <tspan font-style="italic">IKZF1</tspan> WT/IK6</text>
<line x1="285.8" y1="268.1" x2="299.8" y2="268.1" stroke="#4b1f6f" stroke-width="1.1" />
<circle cx="292.9" cy="268.1" r="2.3" fill="#4b1f6f"/>
<text x="302.1" y="270.5" font-size="7.1" textLength="55.8" lengthAdjust="spacingAndGlyphs">4-1 <tspan font-style="italic">IKZF1</tspan> WT/IK6</text>
<text x="8" y="321.7" font-size="10.6" font-weight="bold">F</text>
<line x1="40.4" y1="324.8" x2="40.4" y2="438.85" stroke="#000" stroke-width="1.3" />
<line x1="37.4" y1="324.8" x2="40.4" y2="324.8" stroke="#000" stroke-width="1.3" />
<text x="36.8" y="327.22" font-size="6.9" text-anchor="end">100</text>
<line x1="37.4" y1="353.18" x2="40.4" y2="353.18" stroke="#000" stroke-width="1.3" />
<text x="36.8" y="355.59" font-size="6.9" text-anchor="end">75</text>
<line x1="37.4" y1="381.55" x2="40.4" y2="381.55" stroke="#000" stroke-width="1.3" />
<text x="36.8" y="383.97" font-size="6.9" text-anchor="end">50</text>
<line x1="37.4" y1="409.93" x2="40.4" y2="409.93" stroke="#000" stroke-width="1.3" />
<text x="36.8" y="412.34" font-size="6.9" text-anchor="end">25</text>
<line x1="37.4" y1="438.3" x2="40.4" y2="438.3" stroke="#000" stroke-width="1.3" />
<text x="36.8" y="440.72" font-size="6.9" text-anchor="end">0</text>
<line x1="39.85" y1="438.3" x2="230.2" y2="438.3" stroke="#000" stroke-width="1.3" />
<line x1="40.2" y1="438.3" x2="40.2" y2="440.8" stroke="#000" stroke-width="1.3" />
<text x="40.2" y="447.9" font-size="6.9" text-anchor="middle">-1</text>
<line x1="95.3" y1="438.3" x2="95.3" y2="440.8" stroke="#000" stroke-width="1.3" />
<text x="95.3" y="447.9" font-size="6.9" text-anchor="middle">0</text>
<line x1="150.4" y1="438.3" x2="150.4" y2="440.8" stroke="#000" stroke-width="1.3" />
<text x="150.4" y="447.9" font-size="6.9" text-anchor="middle">1</text>
<line x1="205.5" y1="438.3" x2="205.5" y2="440.8" stroke="#000" stroke-width="1.3" />
<text x="205.5" y="447.9" font-size="6.9" text-anchor="middle">2</text>
<text x="20.8" y="381.7" font-size="6.5" class="c" text-anchor="middle" textLength="99.7" lengthAdjust="spacingAndGlyphs" transform="rotate(-90 20.8 381.7)">Normalized % AVB/7-AAD negative</text>
<text x="123.7" y="457.3" font-size="8.4" class="c" text-anchor="middle" textLength="63.6" lengthAdjust="spacingAndGlyphs">Daunorubicin (log nM)</text>
<polyline points="40.2,324.8 40.75,324.8 41.3,324.8 41.85,324.8 42.4,324.8 42.95,324.8 43.51,324.8 44.06,324.8 44.61,324.8 45.16,324.8 45.71,324.8 46.26,324.8 46.81,324.8 47.36,324.8 47.91,324.8 48.46,324.8 49.02,324.8 49.57,324.8 50.12,324.8 50.67,324.8 51.22,324.8 51.77,324.8 52.32,324.8 52.87,324.8 53.42,324.8 53.97,324.8 54.53,324.8 55.08,324.8 55.63,324.8 56.18,324.81 56.73,324.81 57.28,324.81 57.83,324.81 58.38,324.81 58.93,324.81 59.48,324.81 60.04,324.81 60.59,324.81 61.14,324.81 61.69,324.81 62.24,324.81 62.79,324.81 63.34,324.81 63.89,324.81 64.44,324.81 64.99,324.81 65.55,324.81 66.1,324.81 66.65,324.81 67.2,324.81 67.75,324.81 68.3,324.81 68.85,324.81 69.4,324.81 69.95,324.82 70.5,324.82 71.06,324.82 71.61,324.82 72.16,324.82 72.71,324.82 73.26,324.82 73.81,324.82 74.36,324.82 74.91,324.82 75.46,324.82 76.02,324.83 76.57,324.83 77.12,324.83 77.67,324.83 78.22,324.83 78.77,324.83 79.32,324.83 79.87,324.84 80.42,324.84 80.97,324.84 81.52,324.84 82.08,324.84 82.63,324.84 83.18,324.85 83.73,324.85 84.28,324.85 84.83,324.85 85.38,324.85 85.93,324.86 86.48,324.86 87.03,324.86 87.59,324.87 88.14,324.87 88.69,324.87 89.24,324.88 89.79,324.88 90.34,324.88 90.89,324.89 91.44,324.89 91.99,324.89 92.55,324.9 93.1,324.9 93.65,324.91 94.2,324.91 94.75,324.92 95.3,324.92 95.85,324.93 96.4,324.93 96.95,324.94 97.5,324.95 98.06,324.95 98.61,324.96 99.16,324.97 99.71,324.98 100.26,324.98 100.81,324.99 101.36,325 101.91,325.01 102.46,325.02 103.01,325.03 103.56,325.04 104.12,325.05 104.67,325.06 105.22,325.08 105.77,325.09 106.32,325.1 106.87,325.12 107.42,325.13 107.97,325.15 108.52,325.16 109.08,325.18 109.63,325.19 110.18,325.21 110.73,325.23 111.28,325.25 111.83,325.27 112.38,325.29 112.93,325.32 113.48,325.34 114.03,325.36 114.59,325.39 115.14,325.42 115.69,325.45 116.24,325.48 116.79,325.51 117.34,325.54 117.89,325.57 118.44,325.61 118.99,325.64 119.54,325.68 120.09,325.72 120.65,325.76 121.2,325.81 121.75,325.85 122.3,325.9 122.85,325.95 123.4,326 123.95,326.06 124.5,326.12 125.05,326.18 125.61,326.24 126.16,326.3 126.71,326.37 127.26,326.44 127.81,326.52 128.36,326.6 128.91,326.68 129.46,326.76 130.01,326.85 130.56,326.94 131.12,327.04 131.67,327.14 132.22,327.24 132.77,327.35 133.32,327.47 133.87,327.59 134.42,327.71 134.97,327.84 135.52,327.98 136.07,328.12 136.62,328.27 137.18,328.42 137.73,328.58 138.28,328.75 138.83,328.92 139.38,329.11 139.93,329.3 140.48,329.5 141.03,329.7 141.58,329.92 142.13,330.14 142.69,330.37 143.24,330.62 143.79,330.87 144.34,331.13 144.89,331.41 145.44,331.69 145.99,331.99 146.54,332.3 147.09,332.62 147.64,332.95 148.2,333.3 148.75,333.66 149.3,334.03 149.85,334.42 150.4,334.82 150.95,335.24 151.5,335.67 152.05,336.12 152.6,336.59 153.15,337.07 153.71,337.57 154.26,338.09 154.81,338.62 155.36,339.18 155.91,339.75 156.46,340.34 157.01,340.96 157.56,341.59 158.11,342.24 158.66,342.91 159.22,343.61 159.77,344.32 160.32,345.06 160.87,345.82 161.42,346.6 161.97,347.4 162.52,348.22 163.07,349.07 163.62,349.94 164.18,350.82 164.73,351.74 165.28,352.67 165.83,353.62 166.38,354.6 166.93,355.6 167.48,356.62 168.03,357.65 168.58,358.71 169.13,359.79 169.69,360.88 170.24,362 170.79,363.13 171.34,364.28 171.89,365.44 172.44,366.62 172.99,367.81 173.54,369.02 174.09,370.24 174.64,371.47 175.19,372.7 175.75,373.95 176.3,375.21 176.85,376.47 177.4,377.73 177.95,379 178.5,380.28 179.05,381.55 179.6,382.82 180.15,384.1 180.71,385.37 181.26,386.63 181.81,387.89 182.36,389.15 182.91,390.4 183.46,391.63 184.01,392.86 184.56,394.08 185.11,395.29 185.66,396.48 186.21,397.66 186.77,398.82 187.32,399.97 187.87,401.1 188.42,402.22 188.97,403.31 189.52,404.39 190.07,405.45 190.62,406.48 191.17,407.5 191.72,408.5 192.28,409.48 192.83,410.43 193.38,411.36 193.93,412.28 194.48,413.16 195.03,414.03 195.58,414.88 196.13,415.7 196.68,416.5 197.24,417.28 197.79,418.04 198.34,418.78 198.89,419.49 199.44,420.19 199.99,420.86 200.54,421.51 201.09,422.14 201.64,422.76 202.19,423.35 202.75,423.92 203.3,424.48 203.85,425.01 204.4,425.53 204.95,426.03 205.5,426.51 206.05,426.98 206.6,427.43 207.15,427.86 207.7,428.28 208.25,428.68 208.81,429.07 209.36,429.44 209.91,429.8 210.46,430.15 211.01,430.48 211.56,430.8 212.11,431.11 212.66,431.41 213.21,431.69 213.76,431.97 214.32,432.23 214.87,432.48 215.42,432.73 215.97,432.96 216.52,433.18 217.07,433.4 217.62,433.6 218.17,433.8 218.72,433.99 219.28,434.18 219.83,434.35 220.38,434.52 220.93,434.68 221.48,434.83 222.03,434.98" fill="none" stroke="#3cb44b" stroke-width="1.3" stroke-linejoin="miter" />
<polyline points="40.2,324.8 40.75,324.8 41.3,324.8 41.85,324.8 42.4,324.8 42.95,324.8 43.51,324.8 44.06,324.8 44.61,324.8 45.16,324.8 45.71,324.8 46.26,324.8 46.81,324.8 47.36,324.8 47.91,324.8 48.46,324.8 49.02,324.8 49.57,324.8 50.12,324.8 50.67,324.8 51.22,324.8 51.77,324.8 52.32,324.8 52.87,324.8 53.42,324.8 53.97,324.8 54.53,324.8 55.08,324.8 55.63,324.8 56.18,324.8 56.73,324.8 57.28,324.8 57.83,324.8 58.38,324.8 58.93,324.8 59.48,324.8 60.04,324.8 60.59,324.8 61.14,324.8 61.69,324.8 62.24,324.8 62.79,324.8 63.34,324.8 63.89,324.8 64.44,324.8 64.99,324.8 65.55,324.8 66.1,324.8 66.65,324.8 67.2,324.8 67.75,324.8 68.3,324.8 68.85,324.8 69.4,324.8 69.95,324.8 70.5,324.8 71.06,324.81 71.61,324.81 72.16,324.81 72.71,324.81 73.26,324.81 73.81,324.81 74.36,324.81 74.91,324.81 75.46,324.81 76.02,324.81 76.57,324.81 77.12,324.81 77.67,324.81 78.22,324.81 78.77,324.81 79.32,324.81 79.87,324.81 80.42,324.81 80.97,324.81 81.52,324.81 82.08,324.81 82.63,324.81 83.18,324.82 83.73,324.82 84.28,324.82 84.83,324.82 85.38,324.82 85.93,324.82 86.48,324.82 87.03,324.82 87.59,324.82 88.14,324.82 88.69,324.83 89.24,324.83 89.79,324.83 90.34,324.83 90.89,324.83 91.44,324.83 91.99,324.83 92.55,324.84 93.1,324.84 93.65,324.84 94.2,324.84 94.75,324.84 95.3,324.85 95.85,324.85 96.4,324.85 96.95,324.85 97.5,324.86 98.06,324.86 98.61,324.86 99.16,324.86 99.71,324.87 100.26,324.87 100.81,324.87 101.36,324.88 101.91,324.88 102.46,324.89 103.01,324.89 103.56,324.9 104.12,324.9 104.67,324.91 105.22,324.91 105.77,324.92 106.32,324.92 106.87,324.93 107.42,324.94 107.97,324.94 108.52,324.95 109.08,324.96 109.63,324.96 110.18,324.97 110.73,324.98 111.28,324.99 111.83,325 112.38,325.01 112.93,325.02 113.48,325.03 114.03,325.04 114.59,325.06 115.14,325.07 115.69,325.08 116.24,325.1 116.79,325.11 117.34,325.13 117.89,325.15 118.44,325.16 118.99,325.18 119.54,325.2 120.09,325.22 120.65,325.24 121.2,325.26 121.75,325.29 122.3,325.31 122.85,325.34 123.4,325.37 123.95,325.39 124.5,325.42 125.05,325.46 125.61,325.49 126.16,325.52 126.71,325.56 127.26,325.6 127.81,325.64 128.36,325.68 128.91,325.72 129.46,325.77 130.01,325.82 130.56,325.87 131.12,325.93 131.67,325.98 132.22,326.04 132.77,326.1 133.32,326.17 133.87,326.24 134.42,326.31 134.97,326.38 135.52,326.46 136.07,326.55 136.62,326.63 137.18,326.73 137.73,326.82 138.28,326.92 138.83,327.03 139.38,327.14 139.93,327.25 140.48,327.38 141.03,327.5 141.58,327.64 142.13,327.78 142.69,327.93 143.24,328.08 143.79,328.24 144.34,328.41 144.89,328.59 145.44,328.77 145.99,328.97 146.54,329.17 147.09,329.38 147.64,329.61 148.2,329.84 148.75,330.08 149.3,330.34 149.85,330.6 150.4,330.88 150.95,331.17 151.5,331.48 152.05,331.8 152.6,332.13 153.15,332.48 153.71,332.84 154.26,333.21 154.81,333.61 155.36,334.02 155.91,334.45 156.46,334.89 157.01,335.36 157.56,335.84 158.11,336.35 158.66,336.87 159.22,337.41 159.77,337.98 160.32,338.57 160.87,339.18 161.42,339.81 161.97,340.47 162.52,341.15 163.07,341.85 163.62,342.58 164.18,343.34 164.73,344.12 165.28,344.92 165.83,345.76 166.38,346.62 166.93,347.5 167.48,348.41 168.03,349.35 168.58,350.32 169.13,351.31 169.69,352.33 170.24,353.38 170.79,354.45 171.34,355.55 171.89,356.67 172.44,357.82 172.99,358.99 173.54,360.18 174.09,361.4 174.64,362.64 175.19,363.89 175.75,365.17 176.3,366.47 176.85,367.78 177.4,369.11 177.95,370.46 178.5,371.81 179.05,373.18 179.6,374.56 180.15,375.95 180.71,377.34 181.26,378.74 181.81,380.15 182.36,381.55 182.91,382.95 183.46,384.36 184.01,385.76 184.56,387.15 185.11,388.54 185.66,389.92 186.21,391.29 186.77,392.64 187.32,393.99 187.87,395.32 188.42,396.63 188.97,397.93 189.52,399.21 190.07,400.46 190.62,401.7 191.17,402.92 191.72,404.11 192.28,405.28 192.83,406.43 193.38,407.55 193.93,408.65 194.48,409.72 195.03,410.77 195.58,411.79 196.13,412.78 196.68,413.75 197.24,414.69 197.79,415.6 198.34,416.48 198.89,417.34 199.44,418.18 199.99,418.98 200.54,419.76 201.09,420.52 201.64,421.25 202.19,421.95 202.75,422.63 203.3,423.29 203.85,423.92 204.4,424.53 204.95,425.12 205.5,425.69 206.05,426.23 206.6,426.75 207.15,427.26 207.7,427.74 208.25,428.21 208.81,428.65 209.36,429.08 209.91,429.49 210.46,429.89 211.01,430.26 211.56,430.62 212.11,430.97 212.66,431.3 213.21,431.62 213.76,431.93 214.32,432.22 214.87,432.5 215.42,432.76 215.97,433.02 216.52,433.26 217.07,433.49 217.62,433.72 218.17,433.93 218.72,434.13 219.28,434.33 219.83,434.51 220.38,434.69 220.93,434.86 221.48,435.02 222.03,435.17" fill="none" stroke="#4b1f6f" stroke-width="1.3" stroke-linejoin="miter" />
<polyline points="40.2,324.8 40.75,324.8 41.3,324.8 41.85,324.8 42.4,324.8 42.95,324.8 43.51,324.8 44.06,324.8 44.61,324.8 45.16,324.8 45.71,324.8 46.26,324.8 46.81,324.8 47.36,324.8 47.91,324.8 48.46,324.8 49.02,324.8 49.57,324.8 50.12,324.8 50.67,324.8 51.22,324.8 51.77,324.8 52.32,324.8 52.87,324.8 53.42,324.8 53.97,324.8 54.53,324.81 55.08,324.81 55.63,324.81 56.18,324.81 56.73,324.81 57.28,324.81 57.83,324.81 58.38,324.81 58.93,324.81 59.48,324.81 60.04,324.81 60.59,324.81 61.14,324.81 61.69,324.81 62.24,324.81 62.79,324.81 63.34,324.81 63.89,324.81 64.44,324.81 64.99,324.81 65.55,324.81 66.1,324.81 66.65,324.81 67.2,324.81 67.75,324.82 68.3,324.82 68.85,324.82 69.4,324.82 69.95,324.82 70.5,324.82 71.06,324.82 71.61,324.82 72.16,324.82 72.71,324.82 73.26,324.83 73.81,324.83 74.36,324.83 74.91,324.83 75.46,324.83 76.02,324.83 76.57,324.83 77.12,324.83 77.67,324.84 78.22,324.84 78.77,324.84 79.32,324.84 79.87,324.84 80.42,324.85 80.97,324.85 81.52,324.85 82.08,324.85 82.63,324.86 83.18,324.86 83.73,324.86 84.28,324.86 84.83,324.87 85.38,324.87 85.93,324.87 86.48,324.88 87.03,324.88 87.59,324.88 88.14,324.89 88.69,324.89 89.24,324.9 89.79,324.9 90.34,324.91 90.89,324.91 91.44,324.92 91.99,324.92 92.55,324.93 93.1,324.94 93.65,324.94 94.2,324.95 94.75,324.96 95.3,324.96 95.85,324.97 96.4,324.98 96.95,324.99 97.5,325 98.06,325.01 98.61,325.02 99.16,325.03 99.71,325.04 100.26,325.05 100.81,325.06 101.36,325.07 101.91,325.09 102.46,325.1 103.01,325.12 103.56,325.13 104.12,325.15 104.67,325.16 105.22,325.18 105.77,325.2 106.32,325.22 106.87,325.24 107.42,325.26 107.97,325.28 108.52,325.3 109.08,325.33 109.63,325.35 110.18,325.38 110.73,325.41 111.28,325.44 111.83,325.47 112.38,325.5 112.93,325.53 113.48,325.57 114.03,325.61 114.59,325.64 115.14,325.68 115.69,325.73 116.24,325.77 116.79,325.82 117.34,325.86 117.89,325.92 118.44,325.97 118.99,326.02 119.54,326.08 120.09,326.14 120.65,326.21 121.2,326.27 121.75,326.34 122.3,326.42 122.85,326.49 123.4,326.57 123.95,326.66 124.5,326.75 125.05,326.84 125.61,326.93 126.16,327.03 126.71,327.14 127.26,327.25 127.81,327.36 128.36,327.48 128.91,327.61 129.46,327.74 130.01,327.88 130.56,328.02 131.12,328.17 131.67,328.33 132.22,328.5 132.77,328.67 133.32,328.85 133.87,329.03 134.42,329.23 134.97,329.43 135.52,329.65 136.07,329.87 136.62,330.1 137.18,330.35 137.73,330.6 138.28,330.86 138.83,331.14 139.38,331.43 139.93,331.72 140.48,332.04 141.03,332.36 141.58,332.7 142.13,333.05 142.69,333.42 143.24,333.8 143.79,334.2 144.34,334.61 144.89,335.04 145.44,335.49 145.99,335.95 146.54,336.43 147.09,336.93 147.64,337.45 148.2,337.99 148.75,338.54 149.3,339.12 149.85,339.72 150.4,340.34 150.95,340.98 151.5,341.64 152.05,342.33 152.6,343.03 153.15,343.76 153.71,344.52 154.26,345.29 154.81,346.09 155.36,346.92 155.91,347.77 156.46,348.64 157.01,349.54 157.56,350.46 158.11,351.4 158.66,352.37 159.22,353.36 159.77,354.38 160.32,355.42 160.87,356.48 161.42,357.56 161.97,358.67 162.52,359.8 163.07,360.94 163.62,362.11 164.18,363.3 164.73,364.5 165.28,365.72 165.83,366.96 166.38,368.21 166.93,369.48 167.48,370.75 168.03,372.04 168.58,373.34 169.13,374.65 169.69,375.97 170.24,377.29 170.79,378.62 171.34,379.95 171.89,381.28 172.44,382.62 172.99,383.95 173.54,385.28 174.09,386.6 174.64,387.92 175.19,389.23 175.75,390.54 176.3,391.83 176.85,393.11 177.4,394.39 177.95,395.64 178.5,396.89 179.05,398.11 179.6,399.33 180.15,400.52 180.71,401.69 181.26,402.85 181.81,403.98 182.36,405.1 182.91,406.19 183.46,407.26 184.01,408.31 184.56,409.33 185.11,410.33 185.66,411.31 186.21,412.27 186.77,413.2 187.32,414.1 187.87,414.99 188.42,415.84 188.97,416.68 189.52,417.49 190.07,418.27 190.62,419.04 191.17,419.78 191.72,420.49 192.28,421.19 192.83,421.86 193.38,422.51 193.93,423.14 194.48,423.74 195.03,424.33 195.58,424.89 196.13,425.44 196.68,425.97 197.24,426.47 197.79,426.96 198.34,427.43 198.89,427.88 199.44,428.32 199.99,428.74 200.54,429.14 201.09,429.53 201.64,429.9 202.19,430.26 202.75,430.61 203.3,430.94 203.85,431.25 204.4,431.56 204.95,431.85 205.5,432.13 206.05,432.4 206.6,432.65 207.15,432.9 207.7,433.14 208.25,433.36 208.81,433.58 209.36,433.79 209.91,433.99 210.46,434.18 211.01,434.36 211.56,434.54 212.11,434.7 212.66,434.86 213.21,435.02 213.76,435.16 214.32,435.3 214.87,435.44 215.42,435.57 215.97,435.69 216.52,435.81 217.07,435.92 217.62,436.02 218.17,436.13 218.72,436.22 219.28,436.32 219.83,436.41 220.38,436.49 220.93,436.57 221.48,436.65 222.03,436.73" fill="none" stroke="#c8102e" stroke-width="1.3" stroke-linejoin="miter" />
<line x1="155.74" y1="336.38" x2="155.74" y2="342.05" stroke="#3cb44b" stroke-width="0.9" />
<line x1="154.04" y1="336.38" x2="157.44" y2="336.38" stroke="#3cb44b" stroke-width="0.9" />
<line x1="154.04" y1="342.05" x2="157.44" y2="342.05" stroke="#3cb44b" stroke-width="0.9" />
<circle cx="155.74" cy="339.21" r="1.2" fill="#3cb44b"/>
<line x1="172.33" y1="363.39" x2="172.33" y2="377.01" stroke="#3cb44b" stroke-width="0.9" />
<line x1="170.63" y1="363.39" x2="174.03" y2="363.39" stroke="#3cb44b" stroke-width="0.9" />
<line x1="170.63" y1="377.01" x2="174.03" y2="377.01" stroke="#3cb44b" stroke-width="0.9" />
<circle cx="172.33" cy="370.2" r="1.2" fill="#3cb44b"/>
<line x1="188.91" y1="397.78" x2="188.91" y2="406.86" stroke="#3cb44b" stroke-width="0.9" />
<line x1="187.21" y1="397.78" x2="190.61" y2="397.78" stroke="#3cb44b" stroke-width="0.9" />
<line x1="187.21" y1="406.86" x2="190.61" y2="406.86" stroke="#3cb44b" stroke-width="0.9" />
<circle cx="188.91" cy="402.32" r="1.2" fill="#3cb44b"/>
<line x1="205.5" y1="425.81" x2="205.5" y2="430.36" stroke="#3cb44b" stroke-width="0.9" />
<line x1="203.8" y1="425.81" x2="207.2" y2="425.81" stroke="#3cb44b" stroke-width="0.9" />
<line x1="203.8" y1="430.36" x2="207.2" y2="430.36" stroke="#3cb44b" stroke-width="0.9" />
<circle cx="205.5" cy="428.09" r="1.2" fill="#3cb44b"/>
<line x1="222.03" y1="434.9" x2="222.03" y2="437.17" stroke="#3cb44b" stroke-width="0.9" />
<line x1="220.33" y1="434.9" x2="223.73" y2="434.9" stroke="#3cb44b" stroke-width="0.9" />
<line x1="220.33" y1="437.17" x2="223.73" y2="437.17" stroke="#3cb44b" stroke-width="0.9" />
<circle cx="222.03" cy="436.03" r="1.2" fill="#3cb44b"/>
<line x1="155.74" y1="332.06" x2="155.74" y2="336.6" stroke="#4b1f6f" stroke-width="0.9" />
<line x1="154.04" y1="332.06" x2="157.44" y2="332.06" stroke="#4b1f6f" stroke-width="0.9" />
<line x1="154.04" y1="336.6" x2="157.44" y2="336.6" stroke="#4b1f6f" stroke-width="0.9" />
<circle cx="155.74" cy="334.33" r="1.2" fill="#4b1f6f"/>
<line x1="172.33" y1="351.59" x2="172.33" y2="359.53" stroke="#4b1f6f" stroke-width="0.9" />
<line x1="170.63" y1="351.59" x2="174.03" y2="351.59" stroke="#4b1f6f" stroke-width="0.9" />
<line x1="170.63" y1="359.53" x2="174.03" y2="359.53" stroke="#4b1f6f" stroke-width="0.9" />
<circle cx="172.33" cy="355.56" r="1.2" fill="#4b1f6f"/>
<line x1="188.91" y1="390.29" x2="188.91" y2="397.1" stroke="#4b1f6f" stroke-width="0.9" />
<line x1="187.21" y1="390.29" x2="190.61" y2="390.29" stroke="#4b1f6f" stroke-width="0.9" />
<line x1="187.21" y1="397.1" x2="190.61" y2="397.1" stroke="#4b1f6f" stroke-width="0.9" />
<circle cx="188.91" cy="393.69" r="1.2" fill="#4b1f6f"/>
<line x1="205.5" y1="424.11" x2="205.5" y2="427.52" stroke="#4b1f6f" stroke-width="0.9" />
<line x1="203.8" y1="424.11" x2="207.2" y2="424.11" stroke="#4b1f6f" stroke-width="0.9" />
<line x1="203.8" y1="427.52" x2="207.2" y2="427.52" stroke="#4b1f6f" stroke-width="0.9" />
<circle cx="205.5" cy="425.81" r="1.2" fill="#4b1f6f"/>
<circle cx="222.03" cy="437.96" r="1.2" fill="#4b1f6f"/>
<line x1="155.74" y1="344.66" x2="155.74" y2="350.34" stroke="#c8102e" stroke-width="0.9" />
<line x1="154.04" y1="344.66" x2="157.44" y2="344.66" stroke="#c8102e" stroke-width="0.9" />
<line x1="154.04" y1="350.34" x2="157.44" y2="350.34" stroke="#c8102e" stroke-width="0.9" />
<circle cx="155.74" cy="347.5" r="1.2" fill="#c8102e"/>
<line x1="172.33" y1="379.62" x2="172.33" y2="386.43" stroke="#c8102e" stroke-width="0.9" />
<line x1="170.63" y1="379.62" x2="174.03" y2="379.62" stroke="#c8102e" stroke-width="0.9" />
<line x1="170.63" y1="386.43" x2="174.03" y2="386.43" stroke="#c8102e" stroke-width="0.9" />
<circle cx="172.33" cy="383.03" r="1.2" fill="#c8102e"/>
<line x1="188.91" y1="410.15" x2="188.91" y2="415.83" stroke="#c8102e" stroke-width="0.9" />
<line x1="187.21" y1="410.15" x2="190.61" y2="410.15" stroke="#c8102e" stroke-width="0.9" />
<line x1="187.21" y1="415.83" x2="190.61" y2="415.83" stroke="#c8102e" stroke-width="0.9" />
<circle cx="188.91" cy="412.99" r="1.2" fill="#c8102e"/>
<line x1="205.5" y1="431.04" x2="205.5" y2="433.31" stroke="#c8102e" stroke-width="0.9" />
<line x1="203.8" y1="431.04" x2="207.2" y2="431.04" stroke="#c8102e" stroke-width="0.9" />
<line x1="203.8" y1="433.31" x2="207.2" y2="433.31" stroke="#c8102e" stroke-width="0.9" />
<circle cx="205.5" cy="432.17" r="1.2" fill="#c8102e"/>
<circle cx="222.03" cy="437.73" r="1.2" fill="#c8102e"/>
<text x="65" y="398.5" font-size="7.1" textLength="31.2" lengthAdjust="spacingAndGlyphs">P &lt;0.0001</text>
<line x1="49.2" y1="407.5" x2="63.1" y2="407.5" stroke="#c8102e" stroke-width="1.1" />
<circle cx="56" cy="407.5" r="2.3" fill="#c8102e"/>
<text x="65" y="409.9" font-size="7.1" textLength="46.2" lengthAdjust="spacingAndGlyphs">57-2 <tspan font-style="italic">IKZF1</tspan> WT</text>
<line x1="49.2" y1="416.7" x2="63.1" y2="416.7" stroke="#3cb44b" stroke-width="1.1" />
<circle cx="56" cy="416.7" r="2.3" fill="#3cb44b"/>
<text x="65" y="419.1" font-size="7.1" textLength="55.8" lengthAdjust="spacingAndGlyphs">3-5 <tspan font-style="italic">IKZF1</tspan> WT/IK6</text>
<line x1="49.2" y1="426" x2="63.1" y2="426" stroke="#4b1f6f" stroke-width="1.1" />
<circle cx="56" cy="426" r="2.3" fill="#4b1f6f"/>
<text x="65" y="428.4" font-size="7.1" textLength="55.8" lengthAdjust="spacingAndGlyphs">4-1 <tspan font-style="italic">IKZF1</tspan> WT/IK6</text>
<text x="244.2" y="322.3" font-size="10.6" font-weight="bold">G</text>
<line x1="280.2" y1="325.2" x2="280.2" y2="438.65" stroke="#000" stroke-width="1.3" />
<line x1="277.2" y1="325" x2="280.2" y2="325" stroke="#000" stroke-width="1.3" />
<text x="276.6" y="327.42" font-size="6.9" text-anchor="end">100</text>
<line x1="277.2" y1="353.33" x2="280.2" y2="353.33" stroke="#000" stroke-width="1.3" />
<text x="276.6" y="355.74" font-size="6.9" text-anchor="end">75</text>
<line x1="277.2" y1="381.65" x2="280.2" y2="381.65" stroke="#000" stroke-width="1.3" />
<text x="276.6" y="384.07" font-size="6.9" text-anchor="end">50</text>
<line x1="277.2" y1="409.98" x2="280.2" y2="409.98" stroke="#000" stroke-width="1.3" />
<text x="276.6" y="412.39" font-size="6.9" text-anchor="end">25</text>
<line x1="277.2" y1="438.3" x2="280.2" y2="438.3" stroke="#000" stroke-width="1.3" />
<text x="276.6" y="440.72" font-size="6.9" text-anchor="end">0</text>
<line x1="279.65" y1="438.1" x2="472.3" y2="438.1" stroke="#000" stroke-width="1.3" />
<line x1="280.4" y1="438.1" x2="280.4" y2="440.6" stroke="#000" stroke-width="1.3" />
<text x="280.4" y="447.9" font-size="6.9" text-anchor="middle">-1</text>
<line x1="373.4" y1="438.1" x2="373.4" y2="440.6" stroke="#000" stroke-width="1.3" />
<text x="373.4" y="447.9" font-size="6.9" text-anchor="middle">0</text>
<line x1="460.6" y1="438.1" x2="460.6" y2="440.6" stroke="#000" stroke-width="1.3" />
<text x="460.6" y="447.9" font-size="6.9" text-anchor="middle">1</text>
<text x="260.8" y="383" font-size="6.5" class="c" text-anchor="middle" textLength="99.3" lengthAdjust="spacingAndGlyphs" transform="rotate(-90 260.8 383)">Normalized % AVB/7-AAD negative</text>
<text x="374.4" y="457.5" font-size="8.4" class="c" text-anchor="middle" textLength="73.2" lengthAdjust="spacingAndGlyphs">Asparaginase (log IU/mL)</text>
<polyline points="280.4,325 280.79,325 281.18,325 281.58,325 281.97,325 282.36,325 282.75,325 283.14,325 283.53,325 283.93,325 284.32,325 284.71,325 285.1,325 285.49,325 285.88,325 286.28,325 286.67,325 287.06,325 287.45,325 287.84,325 288.23,325 288.63,325 289.02,325 289.41,325 289.8,325 290.19,325 290.59,325 290.98,325 291.37,325 291.76,325 292.15,325 292.54,325 292.94,325 293.33,325 293.72,325 294.11,325 294.5,325 294.89,325 295.29,325 295.68,325 296.07,325 296.46,325 296.85,325 297.24,325 297.64,325 298.03,325 298.42,325 298.81,325 299.2,325 299.6,325 299.99,325 300.38,325 300.77,325 301.16,325 301.55,325 301.95,325 302.34,325 302.73,325 303.12,325 303.51,325 303.9,325 304.3,325 304.69,325 305.08,325 305.47,325.01 305.86,325.01 306.25,325.01 306.65,325.01 307.04,325.01 307.43,325.01 307.82,325.01 308.21,325.01 308.61,325.01 309,325.01 309.39,325.01 309.78,325.01 310.17,325.01 310.56,325.01 310.96,325.01 311.35,325.01 311.74,325.01 312.13,325.01 312.52,325.01 312.91,325.01 313.31,325.01 313.7,325.01 314.09,325.01 314.48,325.01 314.87,325.01 315.26,325.01 315.66,325.01 316.05,325.01 316.44,325.01 316.83,325.01 317.22,325.02 317.62,325.02 318.01,325.02 318.4,325.02 318.79,325.02 319.18,325.02 319.57,325.02 319.97,325.02 320.36,325.02 320.75,325.02 321.14,325.02 321.53,325.02 321.92,325.02 322.32,325.02 322.71,325.03 323.1,325.03 323.49,325.03 323.88,325.03 324.27,325.03 324.67,325.03 325.06,325.03 325.45,325.03 325.84,325.03 326.23,325.03 326.63,325.04 327.02,325.04 327.41,325.04 327.8,325.04 328.19,325.04 328.58,325.04 328.98,325.04 329.37,325.05 329.76,325.05 330.15,325.05 330.54,325.05 330.93,325.05 331.33,325.06 331.72,325.06 332.11,325.06 332.5,325.06 332.89,325.06 333.28,325.07 333.68,325.07 334.07,325.07 334.46,325.07 334.85,325.08 335.24,325.08 335.64,325.08 336.03,325.09 336.42,325.09 336.81,325.09 337.2,325.1 337.59,325.1 337.99,325.1 338.38,325.11 338.77,325.11 339.16,325.11 339.55,325.12 339.94,325.12 340.34,325.13 340.73,325.13 341.12,325.14 341.51,325.14 341.9,325.15 342.29,325.15 342.69,325.16 343.08,325.16 343.47,325.17 343.86,325.18 344.25,325.18 344.65,325.19 345.04,325.2 345.43,325.2 345.82,325.21 346.21,325.22 346.6,325.23 347,325.24 347.39,325.24 347.78,325.25 348.17,325.26 348.56,325.27 348.95,325.28 349.35,325.29 349.74,325.3 350.13,325.31 350.52,325.33 350.91,325.34 351.3,325.35 351.7,325.36 352.09,325.38 352.48,325.39 352.87,325.41 353.26,325.42 353.66,325.44 354.05,325.45 354.44,325.47 354.83,325.48 355.22,325.5 355.61,325.52 356.01,325.54 356.4,325.56 356.79,325.58 357.18,325.6 357.57,325.62 357.96,325.65 358.36,325.67 358.75,325.69 359.14,325.72 359.53,325.75 359.92,325.77 360.31,325.8 360.71,325.83 361.1,325.86 361.49,325.89 361.88,325.92 362.27,325.96 362.67,325.99 363.06,326.03 363.45,326.07 363.84,326.11 364.23,326.15 364.62,326.19 365.02,326.23 365.41,326.28 365.8,326.32 366.19,326.37 366.58,326.42 366.97,326.47 367.37,326.52 367.76,326.58 368.15,326.64 368.54,326.7 368.93,326.76 369.32,326.82 369.72,326.89 370.11,326.95 370.5,327.02 370.89,327.1 371.28,327.17 371.68,327.25 372.07,327.33 372.46,327.42 372.85,327.5 373.24,327.59 373.63,327.69 374.03,327.78 374.42,327.88 374.81,327.99 375.2,328.09 375.59,328.2 375.98,328.32 376.38,328.43 376.77,328.56 377.16,328.68 377.55,328.81 377.94,328.95 378.33,329.09 378.73,329.23 379.12,329.38 379.51,329.54 379.9,329.7 380.29,329.86 380.69,330.03 381.08,330.21 381.47,330.39 381.86,330.58 382.25,330.78 382.64,330.98 383.04,331.18 383.43,331.4 383.82,331.62 384.21,331.85 384.6,332.08 384.99,332.33 385.39,332.58 385.78,332.84 386.17,333.11 386.56,333.38 386.95,333.67 387.34,333.96 387.74,334.26 388.13,334.57 388.52,334.89 388.91,335.22 389.3,335.56 389.7,335.92 390.09,336.28 390.48,336.65 390.87,337.03 391.26,337.42 391.65,337.83 392.05,338.25 392.44,338.67 392.83,339.11 393.22,339.56 393.61,340.03 394,340.51 394.4,340.99 394.79,341.5 395.18,342.01 395.57,342.54 395.96,343.08 396.35,343.64 396.75,344.21 397.14,344.79 397.53,345.38 397.92,345.99 398.31,346.62 398.71,347.26 399.1,347.91 399.49,348.58 399.88,349.26 400.27,349.95 400.66,350.66 401.06,351.38 401.45,352.12 401.84,352.87 402.23,353.64 402.62,354.42 403.01,355.21 403.41,356.01 403.8,356.83 404.19,357.67 404.58,358.51 404.97,359.37 405.36,360.24 405.76,361.12 406.15,362.01 406.54,362.92 406.93,363.83 407.32,364.76 407.72,365.7 408.11,366.64 408.5,367.6 408.89,368.56 409.28,369.53 409.67,370.51 410.07,371.5 410.46,372.49 410.85,373.49 411.24,374.49 411.63,375.5 412.02,376.51 412.42,377.53 412.81,378.54 413.2,379.56 413.59,380.58 413.98,381.61 414.37,382.63 414.77,383.65 415.16,384.67 415.55,385.69 415.94,386.7 416.33,387.71 416.73,388.72 417.12,389.73 417.51,390.72 417.9,391.72 418.29,392.7 418.68,393.68 419.08,394.66 419.47,395.62 419.86,396.58 420.25,397.52 420.64,398.46 421.03,399.39 421.43,400.3 421.82,401.21 422.21,402.1 422.6,402.99 422.99,403.86 423.38,404.71 423.78,405.56 424.17,406.39 424.56,407.21 424.95,408.02 425.34,408.82 425.74,409.6 426.13,410.36 426.52,411.11 426.91,411.85 427.3,412.58 427.69,413.29 428.09,413.98 428.48,414.67 428.87,415.33 429.26,415.99 429.65,416.63 430.04,417.25 430.44,417.86 430.83,418.46 431.22,419.04 431.61,419.61 432,420.17 432.39,420.71 432.79,421.24 433.18,421.76 433.57,422.26 433.96,422.75 434.35,423.23 434.75,423.7 435.14,424.15 435.53,424.59 435.92,425.02 436.31,425.44 436.7,425.84 437.1,426.24 437.49,426.62 437.88,426.99 438.27,427.35 438.66,427.71 439.05,428.05 439.45,428.38 439.84,428.7 440.23,429.01 440.62,429.32 441.01,429.61 441.4,429.89 441.8,430.17 442.19,430.44 442.58,430.7 442.97,430.95 443.36,431.19 443.76,431.43 444.15,431.66 444.54,431.88 444.93,432.1 445.32,432.31 445.71,432.51 446.11,432.7 446.5,432.89 446.89,433.07 447.28,433.25 447.67,433.42 448.06,433.59 448.46,433.75 448.85,433.9 449.24,434.05 449.63,434.2 450.02,434.34 450.41,434.47 450.81,434.61 451.2,434.73 451.59,434.85 451.98,434.97 452.37,435.09 452.77,435.2 453.16,435.31 453.55,435.41 453.94,435.51 454.33,435.61 454.72,435.7 455.12,435.79 455.51,435.88 455.9,435.96 456.29,436.04 456.68,436.12 457.07,436.2 457.47,436.27 457.86,436.34 458.25,436.41 458.64,436.47 459.03,436.54 459.42,436.6 459.82,436.66 460.21,436.72 460.6,436.77" fill="none" stroke="#3cb44b" stroke-width="1.3" stroke-linejoin="miter" />
<polyline points="280.4,325 280.79,325 281.18,325 281.58,325 281.97,325 282.36,325 282.75,325 283.14,325 283.53,325 283.93,325 284.32,325 284.71,325 285.1,325 285.49,325 285.88,325 286.28,325 286.67,325 287.06,325 287.45,325 287.84,325 288.23,325 288.63,325 289.02,325 289.41,325 289.8,325 290.19,325 290.59,325 290.98,325 291.37,325 291.76,325 292.15,325 292.54,325 292.94,325 293.33,325 293.72,325 294.11,325 294.5,325 294.89,325 295.29,325 295.68,325 296.07,325 296.46,325 296.85,325 297.24,325 297.64,325 298.03,325 298.42,325 298.81,325 299.2,325 299.6,325 299.99,325 300.38,325 300.77,325 301.16,325 301.55,325 301.95,325 302.34,325 302.73,325 303.12,325 303.51,325 303.9,325 304.3,325 304.69,325 305.08,325 305.47,325 305.86,325 306.25,325 306.65,325 307.04,325 307.43,325 307.82,325 308.21,325 308.61,325 309,325 309.39,325 309.78,325 310.17,325 310.56,325 310.96,325 311.35,325 311.74,325 312.13,325 312.52,325 312.91,325 313.31,325 313.7,325 314.09,325 314.48,325 314.87,325 315.26,325 315.66,325 316.05,325 316.44,325 316.83,325 317.22,325 317.62,325 318.01,325 318.4,325 318.79,325 319.18,325 319.57,325 319.97,325 320.36,325 320.75,325 321.14,325 321.53,325 321.92,325 322.32,325 322.71,325 323.1,325 323.49,325 323.88,325 324.27,325 324.67,325 325.06,325 325.45,325 325.84,325 326.23,325 326.63,325 327.02,325 327.41,325 327.8,325 328.19,325 328.58,325 328.98,325 329.37,325 329.76,325 330.15,325 330.54,325 330.93,325.01 331.33,325.01 331.72,325.01 332.11,325.01 332.5,325.01 332.89,325.01 333.28,325.01 333.68,325.01 334.07,325.01 334.46,325.01 334.85,325.01 335.24,325.01 335.64,325.01 336.03,325.01 336.42,325.01 336.81,325.01 337.2,325.01 337.59,325.01 337.99,325.01 338.38,325.01 338.77,325.01 339.16,325.01 339.55,325.01 339.94,325.01 340.34,325.02 340.73,325.02 341.12,325.02 341.51,325.02 341.9,325.02 342.29,325.02 342.69,325.02 343.08,325.02 343.47,325.02 343.86,325.02 344.25,325.02 344.65,325.03 345.04,325.03 345.43,325.03 345.82,325.03 346.21,325.03 346.6,325.03 347,325.03 347.39,325.04 347.78,325.04 348.17,325.04 348.56,325.04 348.95,325.04 349.35,325.04 349.74,325.05 350.13,325.05 350.52,325.05 350.91,325.05 351.3,325.06 351.7,325.06 352.09,325.06 352.48,325.06 352.87,325.07 353.26,325.07 353.66,325.07 354.05,325.08 354.44,325.08 354.83,325.09 355.22,325.09 355.61,325.09 356.01,325.1 356.4,325.1 356.79,325.11 357.18,325.11 357.57,325.12 357.96,325.12 358.36,325.13 358.75,325.14 359.14,325.14 359.53,325.15 359.92,325.16 360.31,325.16 360.71,325.17 361.1,325.18 361.49,325.19 361.88,325.2 362.27,325.21 362.67,325.22 363.06,325.23 363.45,325.24 363.84,325.25 364.23,325.26 364.62,325.27 365.02,325.28 365.41,325.3 365.8,325.31 366.19,325.33 366.58,325.34 366.97,325.36 367.37,325.37 367.76,325.39 368.15,325.41 368.54,325.43 368.93,325.45 369.32,325.47 369.72,325.49 370.11,325.52 370.5,325.54 370.89,325.57 371.28,325.59 371.68,325.62 372.07,325.65 372.46,325.68 372.85,325.71 373.24,325.75 373.63,325.78 374.03,325.82 374.42,325.86 374.81,325.9 375.2,325.94 375.59,325.99 375.98,326.03 376.38,326.08 376.77,326.13 377.16,326.19 377.55,326.24 377.94,326.3 378.33,326.36 378.73,326.42 379.12,326.49 379.51,326.56 379.9,326.63 380.29,326.71 380.69,326.79 381.08,326.87 381.47,326.96 381.86,327.05 382.25,327.15 382.64,327.25 383.04,327.35 383.43,327.46 383.82,327.57 384.21,327.69 384.6,327.82 384.99,327.95 385.39,328.08 385.78,328.23 386.17,328.38 386.56,328.53 386.95,328.69 387.34,328.86 387.74,329.04 388.13,329.22 388.52,329.42 388.91,329.62 389.3,329.83 389.7,330.05 390.09,330.27 390.48,330.51 390.87,330.76 391.26,331.02 391.65,331.29 392.05,331.57 392.44,331.86 392.83,332.17 393.22,332.49 393.61,332.82 394,333.16 394.4,333.52 394.79,333.89 395.18,334.28 395.57,334.68 395.96,335.1 396.35,335.54 396.75,335.99 397.14,336.46 397.53,336.94 397.92,337.45 398.31,337.97 398.71,338.51 399.1,339.07 399.49,339.65 399.88,340.26 400.27,340.88 400.66,341.52 401.06,342.19 401.45,342.87 401.84,343.58 402.23,344.31 402.62,345.07 403.01,345.85 403.41,346.65 403.8,347.47 404.19,348.32 404.58,349.19 404.97,350.08 405.36,351 405.76,351.94 406.15,352.9 406.54,353.89 406.93,354.9 407.32,355.93 407.72,356.98 408.11,358.06 408.5,359.15 408.89,360.27 409.28,361.41 409.67,362.56 410.07,363.73 410.46,364.92 410.85,366.13 411.24,367.35 411.63,368.59 412.02,369.84 412.42,371.1 412.81,372.37 413.2,373.66 413.59,374.95 413.98,376.25 414.37,377.55 414.77,378.86 415.16,380.17 415.55,381.48 415.94,382.8 416.33,384.11 416.73,385.42 417.12,386.72 417.51,388.02 417.9,389.31 418.29,390.6 418.68,391.88 419.08,393.14 419.47,394.39 419.86,395.63 420.25,396.86 420.64,398.07 421.03,399.26 421.43,400.44 421.82,401.6 422.21,402.74 422.6,403.86 422.99,404.97 423.38,406.05 423.78,407.1 424.17,408.14 424.56,409.16 424.95,410.15 425.34,411.12 425.74,412.06 426.13,412.99 426.52,413.89 426.91,414.76 427.3,415.62 427.69,416.45 428.09,417.25 428.48,418.03 428.87,418.79 429.26,419.53 429.65,420.25 430.04,420.94 430.44,421.61 430.83,422.26 431.22,422.89 431.61,423.49 432,424.08 432.39,424.65 432.79,425.19 433.18,425.72 433.57,426.23 433.96,426.72 434.35,427.2 434.75,427.65 435.14,428.09 435.53,428.51 435.92,428.92 436.31,429.31 436.7,429.69 437.1,430.05 437.49,430.4 437.88,430.73 438.27,431.05 438.66,431.36 439.05,431.66 439.45,431.94 439.84,432.21 440.23,432.47 440.62,432.73 441.01,432.97 441.4,433.2 441.8,433.42 442.19,433.63 442.58,433.83 442.97,434.03 443.36,434.21 443.76,434.39 444.15,434.56 444.54,434.73 444.93,434.89 445.32,435.04 445.71,435.18 446.11,435.32 446.5,435.45 446.89,435.57 447.28,435.7 447.67,435.81 448.06,435.92 448.46,436.03 448.85,436.13 449.24,436.22 449.63,436.32 450.02,436.41 450.41,436.49 450.81,436.57 451.2,436.65 451.59,436.72 451.98,436.79 452.37,436.86 452.77,436.92 453.16,436.99 453.55,437.04 453.94,437.1 454.33,437.15 454.72,437.21 455.12,437.26 455.51,437.3 455.9,437.35 456.29,437.39 456.68,437.43 457.07,437.47 457.47,437.51 457.86,437.54 458.25,437.58 458.64,437.61 459.03,437.64 459.42,437.67 459.82,437.7 460.21,437.73 460.6,437.75" fill="none" stroke="#4b1f6f" stroke-width="1.3" stroke-linejoin="miter" />
<polyline points="280.4,325.01 280.79,325.01 281.18,325.01 281.58,325.01 281.97,325.01 282.36,325.01 282.75,325.01 283.14,325.01 283.53,325.01 283.93,325.01 284.32,325.01 284.71,325.01 285.1,325.01 285.49,325.02 285.88,325.02 286.28,325.02 286.67,325.02 287.06,325.02 287.45,325.02 287.84,325.02 288.23,325.02 288.63,325.02 289.02,325.02 289.41,325.02 289.8,325.02 290.19,325.02 290.59,325.02 290.98,325.02 291.37,325.02 291.76,325.02 292.15,325.02 292.54,325.03 292.94,325.03 293.33,325.03 293.72,325.03 294.11,325.03 294.5,325.03 294.89,325.03 295.29,325.03 295.68,325.03 296.07,325.03 296.46,325.03 296.85,325.04 297.24,325.04 297.64,325.04 298.03,325.04 298.42,325.04 298.81,325.04 299.2,325.04 299.6,325.04 299.99,325.05 300.38,325.05 300.77,325.05 301.16,325.05 301.55,325.05 301.95,325.05 302.34,325.05 302.73,325.06 303.12,325.06 303.51,325.06 303.9,325.06 304.3,325.06 304.69,325.06 305.08,325.07 305.47,325.07 305.86,325.07 306.25,325.07 306.65,325.07 307.04,325.08 307.43,325.08 307.82,325.08 308.21,325.08 308.61,325.09 309,325.09 309.39,325.09 309.78,325.09 310.17,325.1 310.56,325.1 310.96,325.1 311.35,325.11 311.74,325.11 312.13,325.11 312.52,325.12 312.91,325.12 313.31,325.12 313.7,325.13 314.09,325.13 314.48,325.14 314.87,325.14 315.26,325.14 315.66,325.15 316.05,325.15 316.44,325.16 316.83,325.16 317.22,325.17 317.62,325.17 318.01,325.18 318.4,325.18 318.79,325.19 319.18,325.19 319.57,325.2 319.97,325.21 320.36,325.21 320.75,325.22 321.14,325.22 321.53,325.23 321.92,325.24 322.32,325.25 322.71,325.25 323.1,325.26 323.49,325.27 323.88,325.28 324.27,325.29 324.67,325.29 325.06,325.3 325.45,325.31 325.84,325.32 326.23,325.33 326.63,325.34 327.02,325.35 327.41,325.36 327.8,325.37 328.19,325.38 328.58,325.4 328.98,325.41 329.37,325.42 329.76,325.43 330.15,325.45 330.54,325.46 330.93,325.47 331.33,325.49 331.72,325.5 332.11,325.52 332.5,325.53 332.89,325.55 333.28,325.56 333.68,325.58 334.07,325.6 334.46,325.62 334.85,325.64 335.24,325.65 335.64,325.67 336.03,325.69 336.42,325.71 336.81,325.74 337.2,325.76 337.59,325.78 337.99,325.8 338.38,325.83 338.77,325.85 339.16,325.88 339.55,325.91 339.94,325.93 340.34,325.96 340.73,325.99 341.12,326.02 341.51,326.05 341.9,326.08 342.29,326.11 342.69,326.15 343.08,326.18 343.47,326.22 343.86,326.25 344.25,326.29 344.65,326.33 345.04,326.37 345.43,326.41 345.82,326.45 346.21,326.49 346.6,326.54 347,326.58 347.39,326.63 347.78,326.68 348.17,326.73 348.56,326.78 348.95,326.83 349.35,326.89 349.74,326.95 350.13,327 350.52,327.06 350.91,327.12 351.3,327.19 351.7,327.25 352.09,327.32 352.48,327.39 352.87,327.46 353.26,327.53 353.66,327.6 354.05,327.68 354.44,327.76 354.83,327.84 355.22,327.93 355.61,328.01 356.01,328.1 356.4,328.19 356.79,328.28 357.18,328.38 357.57,328.48 357.96,328.58 358.36,328.69 358.75,328.79 359.14,328.9 359.53,329.02 359.92,329.14 360.31,329.26 360.71,329.38 361.1,329.51 361.49,329.64 361.88,329.77 362.27,329.91 362.67,330.05 363.06,330.2 363.45,330.35 363.84,330.5 364.23,330.66 364.62,330.82 365.02,330.99 365.41,331.16 365.8,331.33 366.19,331.51 366.58,331.7 366.97,331.89 367.37,332.08 367.76,332.28 368.15,332.49 368.54,332.7 368.93,332.92 369.32,333.14 369.72,333.37 370.11,333.6 370.5,333.84 370.89,334.09 371.28,334.34 371.68,334.6 372.07,334.86 372.46,335.13 372.85,335.41 373.24,335.69 373.63,335.99 374.03,336.29 374.42,336.59 374.81,336.9 375.2,337.23 375.59,337.55 375.98,337.89 376.38,338.23 376.77,338.59 377.16,338.95 377.55,339.31 377.94,339.69 378.33,340.08 378.73,340.47 379.12,340.87 379.51,341.28 379.9,341.7 380.29,342.13 380.69,342.57 381.08,343.01 381.47,343.47 381.86,343.93 382.25,344.41 382.64,344.89 383.04,345.38 383.43,345.89 383.82,346.4 384.21,346.92 384.6,347.45 384.99,347.99 385.39,348.54 385.78,349.1 386.17,349.67 386.56,350.25 386.95,350.84 387.34,351.44 387.74,352.05 388.13,352.66 388.52,353.29 388.91,353.93 389.3,354.57 389.7,355.23 390.09,355.89 390.48,356.56 390.87,357.25 391.26,357.94 391.65,358.64 392.05,359.35 392.44,360.06 392.83,360.79 393.22,361.52 393.61,362.26 394,363.01 394.4,363.76 394.79,364.53 395.18,365.3 395.57,366.07 395.96,366.86 396.35,367.64 396.75,368.44 397.14,369.24 397.53,370.04 397.92,370.85 398.31,371.67 398.71,372.49 399.1,373.31 399.49,374.14 399.88,374.97 400.27,375.8 400.66,376.64 401.06,377.47 401.45,378.31 401.84,379.15 402.23,380 402.62,380.84 403.01,381.68 403.41,382.52 403.8,383.37 404.19,384.21 404.58,385.05 404.97,385.89 405.36,386.73 405.76,387.56 406.15,388.39 406.54,389.22 406.93,390.05 407.32,390.87 407.72,391.69 408.11,392.51 408.5,393.32 408.89,394.12 409.28,394.92 409.67,395.71 410.07,396.5 410.46,397.28 410.85,398.06 411.24,398.83 411.63,399.59 412.02,400.35 412.42,401.09 412.81,401.83 413.2,402.57 413.59,403.29 413.98,404.01 414.37,404.71 414.77,405.41 415.16,406.1 415.55,406.78 415.94,407.46 416.33,408.12 416.73,408.78 417.12,409.42 417.51,410.06 417.9,410.68 418.29,411.3 418.68,411.91 419.08,412.5 419.47,413.09 419.86,413.67 420.25,414.24 420.64,414.8 421.03,415.35 421.43,415.89 421.82,416.42 422.21,416.94 422.6,417.45 422.99,417.95 423.38,418.45 423.78,418.93 424.17,419.4 424.56,419.87 424.95,420.32 425.34,420.77 425.74,421.2 426.13,421.63 426.52,422.05 426.91,422.46 427.3,422.86 427.69,423.25 428.09,423.64 428.48,424.01 428.87,424.38 429.26,424.74 429.65,425.09 430.04,425.43 430.44,425.77 430.83,426.1 431.22,426.42 431.61,426.73 432,427.04 432.39,427.34 432.79,427.63 433.18,427.91 433.57,428.19 433.96,428.46 434.35,428.72 434.75,428.98 435.14,429.23 435.53,429.48 435.92,429.72 436.31,429.95 436.7,430.18 437.1,430.4 437.49,430.62 437.88,430.83 438.27,431.03 438.66,431.23 439.05,431.43 439.45,431.62 439.84,431.8 440.23,431.98 440.62,432.16 441.01,432.33 441.4,432.49 441.8,432.65 442.19,432.81 442.58,432.96 442.97,433.11 443.36,433.26 443.76,433.4 444.15,433.54 444.54,433.67 444.93,433.8 445.32,433.93 445.71,434.05 446.11,434.17 446.5,434.29 446.89,434.4 447.28,434.51 447.67,434.62 448.06,434.73 448.46,434.83 448.85,434.93 449.24,435.02 449.63,435.12 450.02,435.21 450.41,435.29 450.81,435.38 451.2,435.46 451.59,435.55 451.98,435.62 452.37,435.7 452.77,435.78 453.16,435.85 453.55,435.92 453.94,435.99 454.33,436.05 454.72,436.12 455.12,436.18 455.51,436.24 455.9,436.3 456.29,436.36 456.68,436.41 457.07,436.47 457.47,436.52 457.86,436.57 458.25,436.62 458.64,436.67 459.03,436.72 459.42,436.76 459.82,436.81 460.21,436.85 460.6,436.89" fill="none" stroke="#c8102e" stroke-width="1.3" stroke-linejoin="miter" />
<line x1="354.2" y1="331.8" x2="354.2" y2="340.86" stroke="#3cb44b" stroke-width="0.9" />
<line x1="352.5" y1="331.8" x2="355.9" y2="331.8" stroke="#3cb44b" stroke-width="0.9" />
<line x1="352.5" y1="340.86" x2="355.9" y2="340.86" stroke="#3cb44b" stroke-width="0.9" />
<line x1="382.3" y1="340.86" x2="382.3" y2="345.39" stroke="#3cb44b" stroke-width="0.9" />
<line x1="380.6" y1="340.86" x2="384" y2="340.86" stroke="#3cb44b" stroke-width="0.9" />
<line x1="380.6" y1="345.39" x2="384" y2="345.39" stroke="#3cb44b" stroke-width="0.9" />
<line x1="410.5" y1="368.85" x2="410.5" y2="375.65" stroke="#3cb44b" stroke-width="0.9" />
<line x1="408.8" y1="368.85" x2="412.2" y2="368.85" stroke="#3cb44b" stroke-width="0.9" />
<line x1="408.8" y1="375.65" x2="412.2" y2="375.65" stroke="#3cb44b" stroke-width="0.9" />
<line x1="438.8" y1="432.63" x2="438.8" y2="438.3" stroke="#3cb44b" stroke-width="0.9" />
<line x1="437.1" y1="432.63" x2="440.5" y2="432.63" stroke="#3cb44b" stroke-width="0.9" />
<line x1="437.1" y1="438.3" x2="440.5" y2="438.3" stroke="#3cb44b" stroke-width="0.9" />
<line x1="460.6" y1="433.77" x2="460.6" y2="440.57" stroke="#3cb44b" stroke-width="0.9" />
<line x1="458.9" y1="433.77" x2="462.3" y2="433.77" stroke="#3cb44b" stroke-width="0.9" />
<line x1="458.9" y1="440.57" x2="462.3" y2="440.57" stroke="#3cb44b" stroke-width="0.9" />
<line x1="354.2" y1="331.46" x2="354.2" y2="339.39" stroke="#c8102e" stroke-width="0.9" />
<line x1="352.5" y1="331.46" x2="355.9" y2="331.46" stroke="#c8102e" stroke-width="0.9" />
<line x1="352.5" y1="339.39" x2="355.9" y2="339.39" stroke="#c8102e" stroke-width="0.9" />
<line x1="410.5" y1="386.52" x2="410.5" y2="395.59" stroke="#c8102e" stroke-width="0.9" />
<line x1="408.8" y1="386.52" x2="412.2" y2="386.52" stroke="#c8102e" stroke-width="0.9" />
<line x1="408.8" y1="395.59" x2="412.2" y2="395.59" stroke="#c8102e" stroke-width="0.9" />
<line x1="354.2" y1="331.8" x2="354.2" y2="339.73" stroke="#4b1f6f" stroke-width="0.9" />
<line x1="352.5" y1="331.8" x2="355.9" y2="331.8" stroke="#4b1f6f" stroke-width="0.9" />
<line x1="352.5" y1="339.73" x2="355.9" y2="339.73" stroke="#4b1f6f" stroke-width="0.9" />
<line x1="382.3" y1="337.69" x2="382.3" y2="342.22" stroke="#4b1f6f" stroke-width="0.9" />
<line x1="380.6" y1="337.69" x2="384" y2="337.69" stroke="#4b1f6f" stroke-width="0.9" />
<line x1="380.6" y1="342.22" x2="384" y2="342.22" stroke="#4b1f6f" stroke-width="0.9" />
<line x1="410.5" y1="362.05" x2="410.5" y2="368.85" stroke="#4b1f6f" stroke-width="0.9" />
<line x1="408.8" y1="362.05" x2="412.2" y2="362.05" stroke="#4b1f6f" stroke-width="0.9" />
<line x1="408.8" y1="368.85" x2="412.2" y2="368.85" stroke="#4b1f6f" stroke-width="0.9" />
<line x1="438.8" y1="434.9" x2="438.8" y2="438.3" stroke="#4b1f6f" stroke-width="0.9" />
<line x1="437.1" y1="434.9" x2="440.5" y2="434.9" stroke="#4b1f6f" stroke-width="0.9" />
<line x1="437.1" y1="438.3" x2="440.5" y2="438.3" stroke="#4b1f6f" stroke-width="0.9" />
<line x1="460.6" y1="436.6" x2="460.6" y2="438.87" stroke="#4b1f6f" stroke-width="0.9" />
<line x1="458.9" y1="436.6" x2="462.3" y2="436.6" stroke="#4b1f6f" stroke-width="0.9" />
<line x1="458.9" y1="438.87" x2="462.3" y2="438.87" stroke="#4b1f6f" stroke-width="0.9" />
<circle cx="354.2" cy="336.33" r="1.2" fill="#3cb44b"/>
<circle cx="382.3" cy="343.13" r="1.2" fill="#3cb44b"/>
<circle cx="410.5" cy="372.25" r="1.2" fill="#3cb44b"/>
<circle cx="438.8" cy="435.47" r="1.2" fill="#3cb44b"/>
<circle cx="460.6" cy="437.17" r="1.2" fill="#3cb44b"/>
<circle cx="354.2" cy="335.76" r="1.2" fill="#4b1f6f"/>
<circle cx="382.3" cy="339.96" r="1.2" fill="#4b1f6f"/>
<circle cx="410.5" cy="365.45" r="1.2" fill="#4b1f6f"/>
<circle cx="438.8" cy="436.6" r="1.2" fill="#4b1f6f"/>
<circle cx="460.6" cy="437.73" r="1.2" fill="#4b1f6f"/>
<circle cx="354.2" cy="335.42" r="1.2" fill="#c8102e"/>
<circle cx="382.3" cy="344.6" r="1.2" fill="#c8102e"/>
<circle cx="410.5" cy="391.05" r="1.2" fill="#c8102e"/>
<circle cx="438.8" cy="437.17" r="1.2" fill="#c8102e"/>
<circle cx="460.6" cy="437.17" r="1.2" fill="#c8102e"/>
<text x="298.5" y="398.5" font-size="7.1" textLength="31.2" lengthAdjust="spacingAndGlyphs">P &lt;0.0001</text>
<line x1="283.7" y1="407.5" x2="297.7" y2="407.5" stroke="#c8102e" stroke-width="1.1" />
<circle cx="291" cy="407.5" r="2.3" fill="#c8102e"/>
<text x="299.6" y="409.9" font-size="7.1" textLength="46.2" lengthAdjust="spacingAndGlyphs">57-2 <tspan font-style="italic">IKZF1</tspan> WT</text>
<line x1="283.7" y1="416.7" x2="297.7" y2="416.7" stroke="#3cb44b" stroke-width="1.1" />
<circle cx="291" cy="416.7" r="2.3" fill="#3cb44b"/>
<text x="299.6" y="419.1" font-size="7.1" textLength="55.8" lengthAdjust="spacingAndGlyphs">3-5 <tspan font-style="italic">IKZF1</tspan> WT/IK6</text>
<line x1="283.7" y1="426" x2="297.7" y2="426" stroke="#4b1f6f" stroke-width="1.1" />
<circle cx="291" cy="426" r="2.3" fill="#4b1f6f"/>
<text x="299.6" y="428.4" font-size="7.1" textLength="55.8" lengthAdjust="spacingAndGlyphs">4-1 <tspan font-style="italic">IKZF1</tspan> WT/IK6</text>
<text x="7.5" y="463.1" font-size="10.6" font-weight="bold">H</text>
<line x1="35.8" y1="476" x2="35.8" y2="559.35" stroke="#000" stroke-width="1.3" />
<line x1="32.8" y1="476" x2="35.8" y2="476" stroke="#000" stroke-width="1.3" />
<text x="32.2" y="478.41" font-size="6.9" text-anchor="end">1.5</text>
<line x1="32.8" y1="503.6" x2="35.8" y2="503.6" stroke="#000" stroke-width="1.3" />
<text x="32.2" y="506.01" font-size="6.9" text-anchor="end">1.0</text>
<line x1="32.8" y1="531.2" x2="35.8" y2="531.2" stroke="#000" stroke-width="1.3" />
<text x="32.2" y="533.61" font-size="6.9" text-anchor="end">0.5</text>
<line x1="32.8" y1="558.8" x2="35.8" y2="558.8" stroke="#000" stroke-width="1.3" />
<text x="32.2" y="561.21" font-size="6.9" text-anchor="end">0.0</text>
<line x1="35.25" y1="558.8" x2="168.8" y2="558.8" stroke="#000" stroke-width="1.3" />
<text x="17.8" y="519.5" font-size="7.5" class="c" text-anchor="middle" textLength="59.9" lengthAdjust="spacingAndGlyphs" transform="rotate(-90 17.8 519.5)">Relative 2^-ΔΔC(t)</text>
<text x="85.4" y="476.3" font-size="9.0" font-style="italic" textLength="28.8" lengthAdjust="spacingAndGlyphs">NR3C1</text>
<rect x="52.5" y="502.9" width="25.7" height="55.9" fill="#c22030"/>
<rect x="89.6" y="525.2" width="26" height="33.6" fill="#0e5283"/>
<rect x="126.2" y="506.7" width="25.9" height="52.1" fill="#3cb54a"/>
<line x1="65.4" y1="498.7" x2="65.4" y2="508.1" stroke="#000" stroke-width="1.1" />
<line x1="58.8" y1="498.7" x2="72" y2="498.7" stroke="#000" stroke-width="1.1" />
<line x1="58.8" y1="508.1" x2="72" y2="508.1" stroke="#000" stroke-width="1.1" />
<line x1="102.5" y1="522.9" x2="102.5" y2="527.3" stroke="#000" stroke-width="1.1" />
<line x1="96.1" y1="522.9" x2="108.9" y2="522.9" stroke="#000" stroke-width="1.1" />
<line x1="96.1" y1="527.3" x2="108.9" y2="527.3" stroke="#000" stroke-width="1.1" />
<line x1="139.4" y1="505.6" x2="139.4" y2="508.7" stroke="#000" stroke-width="1.1" />
<line x1="132.85" y1="505.6" x2="145.95" y2="505.6" stroke="#000" stroke-width="1.1" />
<line x1="132.85" y1="508.7" x2="145.95" y2="508.7" stroke="#000" stroke-width="1.1" />
<rect x="38" y="567.2" width="10" height="5.4" fill="#c22030"/>
<text x="51.2" y="572.2" font-size="7.4" textLength="27.7" lengthAdjust="spacingAndGlyphs">57-2 WT</text>
<rect x="38" y="578.5" width="10" height="5.4" fill="#0e5283"/>
<text x="51.2" y="583.5" font-size="7.4" textLength="46.0" lengthAdjust="spacingAndGlyphs">55-7 <tspan font-style="italic">IKZF1</tspan> KO</text>
<rect x="38" y="590.3" width="10" height="5.4" fill="#3cb54a"/>
<text x="51.2" y="595.3" font-size="7.4" textLength="35.0" lengthAdjust="spacingAndGlyphs">3-5 WT/IK6</text>
<line x1="200.8" y1="474.9" x2="200.8" y2="558.85" stroke="#000" stroke-width="1.3" />
<line x1="197.8" y1="474.9" x2="200.8" y2="474.9" stroke="#000" stroke-width="1.3" />
<text x="197.2" y="477.31" font-size="6.9" text-anchor="end">6</text>
<line x1="197.8" y1="502.7" x2="200.8" y2="502.7" stroke="#000" stroke-width="1.3" />
<text x="197.2" y="505.11" font-size="6.9" text-anchor="end">4</text>
<line x1="197.8" y1="530.5" x2="200.8" y2="530.5" stroke="#000" stroke-width="1.3" />
<text x="197.2" y="532.91" font-size="6.9" text-anchor="end">2</text>
<line x1="197.8" y1="558.3" x2="200.8" y2="558.3" stroke="#000" stroke-width="1.3" />
<text x="197.2" y="560.71" font-size="6.9" text-anchor="end">0</text>
<line x1="200.25" y1="558.3" x2="334.8" y2="558.3" stroke="#000" stroke-width="1.3" />
<text x="253.8" y="476.8" font-size="9.0" font-style="italic" textLength="28.2" lengthAdjust="spacingAndGlyphs">FKBP5</text>
<rect x="205.85" y="543.7" width="9.9" height="14.6" fill="#c22030"/>
<line x1="210.8" y1="558.3" x2="210.8" y2="560.8" stroke="#000" stroke-width="1.3" />
<rect x="218.05" y="512.43" width="9.9" height="45.87" fill="#c22030"/>
<line x1="223" y1="558.3" x2="223" y2="560.8" stroke="#000" stroke-width="1.3" />
<line x1="223" y1="508.26" x2="223" y2="516.6" stroke="#000" stroke-width="1.0" />
<line x1="220.4" y1="508.26" x2="225.6" y2="508.26" stroke="#000" stroke-width="1.0" />
<line x1="220.4" y1="516.6" x2="225.6" y2="516.6" stroke="#000" stroke-width="1.0" />
<rect x="230.05" y="503.39" width="9.9" height="54.9" fill="#c22030"/>
<line x1="235" y1="558.3" x2="235" y2="560.8" stroke="#000" stroke-width="1.3" />
<line x1="235" y1="502.98" x2="235" y2="503.81" stroke="#000" stroke-width="1.0" />
<line x1="232.4" y1="502.98" x2="237.6" y2="502.98" stroke="#000" stroke-width="1.0" />
<line x1="232.4" y1="503.81" x2="237.6" y2="503.81" stroke="#000" stroke-width="1.0" />
<rect x="250.65" y="544.4" width="9.9" height="13.9" fill="#0e5283"/>
<line x1="255.6" y1="558.3" x2="255.6" y2="560.8" stroke="#000" stroke-width="1.3" />
<rect x="263.05" y="526.33" width="9.9" height="31.97" fill="#0e5283"/>
<line x1="268" y1="558.3" x2="268" y2="560.8" stroke="#000" stroke-width="1.3" />
<line x1="268" y1="525.91" x2="268" y2="526.75" stroke="#000" stroke-width="1.0" />
<line x1="265.4" y1="525.91" x2="270.6" y2="525.91" stroke="#000" stroke-width="1.0" />
<line x1="265.4" y1="526.75" x2="270.6" y2="526.75" stroke="#000" stroke-width="1.0" />
<rect x="275.35" y="513.54" width="9.9" height="44.76" fill="#0e5283"/>
<line x1="280.3" y1="558.3" x2="280.3" y2="560.8" stroke="#000" stroke-width="1.3" />
<line x1="280.3" y1="505.2" x2="280.3" y2="521.88" stroke="#000" stroke-width="1.0" />
<line x1="277.7" y1="505.2" x2="282.9" y2="505.2" stroke="#000" stroke-width="1.0" />
<line x1="277.7" y1="521.88" x2="282.9" y2="521.88" stroke="#000" stroke-width="1.0" />
<rect x="295.55" y="543.98" width="9.9" height="14.32" fill="#3cb54a"/>
<line x1="300.5" y1="558.3" x2="300.5" y2="560.8" stroke="#000" stroke-width="1.3" />
<line x1="300.5" y1="543.29" x2="300.5" y2="544.68" stroke="#000" stroke-width="1.0" />
<line x1="297.9" y1="543.29" x2="303.1" y2="543.29" stroke="#000" stroke-width="1.0" />
<line x1="297.9" y1="544.68" x2="303.1" y2="544.68" stroke="#000" stroke-width="1.0" />
<rect x="307.95" y="530.5" width="9.9" height="27.8" fill="#3cb54a"/>
<line x1="312.9" y1="558.3" x2="312.9" y2="560.8" stroke="#000" stroke-width="1.3" />
<line x1="312.9" y1="530.08" x2="312.9" y2="530.92" stroke="#000" stroke-width="1.0" />
<line x1="310.3" y1="530.08" x2="315.5" y2="530.08" stroke="#000" stroke-width="1.0" />
<line x1="310.3" y1="530.92" x2="315.5" y2="530.92" stroke="#000" stroke-width="1.0" />
<rect x="320.05" y="486.99" width="9.9" height="71.31" fill="#3cb54a"/>
<line x1="325" y1="558.3" x2="325" y2="560.8" stroke="#000" stroke-width="1.3" />
<line x1="325" y1="485.46" x2="325" y2="488.52" stroke="#000" stroke-width="1.0" />
<line x1="322.4" y1="485.46" x2="327.6" y2="485.46" stroke="#000" stroke-width="1.0" />
<line x1="322.4" y1="488.52" x2="327.6" y2="488.52" stroke="#000" stroke-width="1.0" />
<text x="209.9" y="565.1" font-size="7.3" text-anchor="end" transform="rotate(-45 209.9 565.1)">0</text>
<text x="224.07" y="565.7" font-size="7.3" text-anchor="end" transform="rotate(-45 224.07 565.7)">24 hr</text>
<text x="236.07" y="565.7" font-size="7.3" text-anchor="end" transform="rotate(-45 236.07 565.7)">48 hr</text>
<text x="254.7" y="565.1" font-size="7.3" text-anchor="end" transform="rotate(-45 254.7 565.1)">0</text>
<text x="269.07" y="565.7" font-size="7.3" text-anchor="end" transform="rotate(-45 269.07 565.7)">24 hr</text>
<text x="281.37" y="565.7" font-size="7.3" text-anchor="end" transform="rotate(-45 281.37 565.7)">48 hr</text>
<text x="299.6" y="565.1" font-size="7.3" text-anchor="end" transform="rotate(-45 299.6 565.1)">0</text>
<text x="313.97" y="565.7" font-size="7.3" text-anchor="end" transform="rotate(-45 313.97 565.7)">24 hr</text>
<text x="326.07" y="565.7" font-size="7.3" text-anchor="end" transform="rotate(-45 326.07 565.7)">48 hr</text>
<text x="187.3" y="516.5" font-size="8.4" class="c" text-anchor="middle" textLength="37.5" lengthAdjust="spacingAndGlyphs" transform="rotate(-90 187.3 516.5)">Fold increase</text>
<line x1="360.1" y1="474.9" x2="360.1" y2="558.85" stroke="#000" stroke-width="1.3" />
<line x1="357.1" y1="474.9" x2="360.1" y2="474.9" stroke="#000" stroke-width="1.3" />
<text x="356.5" y="477.31" font-size="6.9" text-anchor="end">60</text>
<line x1="357.1" y1="502.7" x2="360.1" y2="502.7" stroke="#000" stroke-width="1.3" />
<text x="356.5" y="505.11" font-size="6.9" text-anchor="end">40</text>
<line x1="357.1" y1="530.5" x2="360.1" y2="530.5" stroke="#000" stroke-width="1.3" />
<text x="356.5" y="532.91" font-size="6.9" text-anchor="end">20</text>
<line x1="357.1" y1="558.3" x2="360.1" y2="558.3" stroke="#000" stroke-width="1.3" />
<text x="356.5" y="560.71" font-size="6.9" text-anchor="end">0</text>
<line x1="359.55" y1="558.3" x2="493.6" y2="558.3" stroke="#000" stroke-width="1.3" />
<text x="413.8" y="476.8" font-size="9.0" font-style="italic" textLength="38.6" lengthAdjust="spacingAndGlyphs">TSC22D3</text>
<rect x="364.55" y="555.94" width="9.9" height="2.36" fill="#c22030"/>
<line x1="369.5" y1="558.3" x2="369.5" y2="560.8" stroke="#000" stroke-width="1.3" />
<line x1="369.5" y1="555.66" x2="369.5" y2="556.21" stroke="#000" stroke-width="1.0" />
<line x1="366.9" y1="555.66" x2="372.1" y2="555.66" stroke="#000" stroke-width="1.0" />
<line x1="366.9" y1="556.21" x2="372.1" y2="556.21" stroke="#000" stroke-width="1.0" />
<rect x="376.95" y="504.09" width="9.9" height="54.21" fill="#c22030"/>
<line x1="381.9" y1="558.3" x2="381.9" y2="560.8" stroke="#000" stroke-width="1.3" />
<line x1="381.9" y1="503.53" x2="381.9" y2="504.65" stroke="#000" stroke-width="1.0" />
<line x1="379.3" y1="503.53" x2="384.5" y2="503.53" stroke="#000" stroke-width="1.0" />
<line x1="379.3" y1="504.65" x2="384.5" y2="504.65" stroke="#000" stroke-width="1.0" />
<rect x="389.05" y="518.82" width="9.9" height="39.48" fill="#c22030"/>
<line x1="394" y1="558.3" x2="394" y2="560.8" stroke="#000" stroke-width="1.3" />
<line x1="394" y1="517.43" x2="394" y2="520.21" stroke="#000" stroke-width="1.0" />
<line x1="391.4" y1="517.43" x2="396.6" y2="517.43" stroke="#000" stroke-width="1.0" />
<line x1="391.4" y1="520.21" x2="396.6" y2="520.21" stroke="#000" stroke-width="1.0" />
<rect x="409.55" y="555.94" width="9.9" height="2.36" fill="#0e5283"/>
<line x1="414.5" y1="558.3" x2="414.5" y2="560.8" stroke="#000" stroke-width="1.3" />
<rect x="421.95" y="534.25" width="9.9" height="24.05" fill="#0e5283"/>
<line x1="426.9" y1="558.3" x2="426.9" y2="560.8" stroke="#000" stroke-width="1.3" />
<rect x="434.25" y="536.48" width="9.9" height="21.82" fill="#0e5283"/>
<line x1="439.2" y1="558.3" x2="439.2" y2="560.8" stroke="#000" stroke-width="1.3" />
<line x1="439.2" y1="535.5" x2="439.2" y2="537.45" stroke="#000" stroke-width="1.0" />
<line x1="436.6" y1="535.5" x2="441.8" y2="535.5" stroke="#000" stroke-width="1.0" />
<line x1="436.6" y1="537.45" x2="441.8" y2="537.45" stroke="#000" stroke-width="1.0" />
<rect x="454.55" y="556.35" width="9.9" height="1.95" fill="#3cb54a"/>
<line x1="459.5" y1="558.3" x2="459.5" y2="560.8" stroke="#000" stroke-width="1.3" />
<rect x="466.85" y="511.87" width="9.9" height="46.43" fill="#3cb54a"/>
<line x1="471.8" y1="558.3" x2="471.8" y2="560.8" stroke="#000" stroke-width="1.3" />
<line x1="471.8" y1="511.18" x2="471.8" y2="512.57" stroke="#000" stroke-width="1.0" />
<line x1="469.2" y1="511.18" x2="474.4" y2="511.18" stroke="#000" stroke-width="1.0" />
<line x1="469.2" y1="512.57" x2="474.4" y2="512.57" stroke="#000" stroke-width="1.0" />
<rect x="479.15" y="486.3" width="9.9" height="72" fill="#3cb54a"/>
<line x1="484.1" y1="558.3" x2="484.1" y2="560.8" stroke="#000" stroke-width="1.3" />
<line x1="484.1" y1="484.49" x2="484.1" y2="488.1" stroke="#000" stroke-width="1.0" />
<line x1="481.5" y1="484.49" x2="486.7" y2="484.49" stroke="#000" stroke-width="1.0" />
<line x1="481.5" y1="488.1" x2="486.7" y2="488.1" stroke="#000" stroke-width="1.0" />
<text x="368.6" y="565.1" font-size="7.3" text-anchor="end" transform="rotate(-45 368.6 565.1)">0</text>
<text x="382.97" y="565.7" font-size="7.3" text-anchor="end" transform="rotate(-45 382.97 565.7)">24 hr</text>
<text x="395.07" y="565.7" font-size="7.3" text-anchor="end" transform="rotate(-45 395.07 565.7)">48 hr</text>
<text x="413.6" y="565.1" font-size="7.3" text-anchor="end" transform="rotate(-45 413.6 565.1)">0</text>
<text x="427.97" y="565.7" font-size="7.3" text-anchor="end" transform="rotate(-45 427.97 565.7)">24 hr</text>
<text x="440.27" y="565.7" font-size="7.3" text-anchor="end" transform="rotate(-45 440.27 565.7)">48 hr</text>
<text x="458.6" y="565.1" font-size="7.3" text-anchor="end" transform="rotate(-45 458.6 565.1)">0</text>
<text x="472.87" y="565.7" font-size="7.3" text-anchor="end" transform="rotate(-45 472.87 565.7)">24 hr</text>
<text x="485.17" y="565.7" font-size="7.3" text-anchor="end" transform="rotate(-45 485.17 565.7)">48 hr</text>
<line x1="202.4" y1="585.6" x2="485.8" y2="585.6" stroke="#000" stroke-width="1.3" />
<text x="344.1" y="601" font-size="8.8" class="c" text-anchor="middle" textLength="74.4" lengthAdjust="spacingAndGlyphs">Dexamethasone treatment</text>
<rect x="0.5" y="0.5" width="519" height="607" fill="none" stroke="#000" stroke-width="1"/>
</svg>
</body></html>
